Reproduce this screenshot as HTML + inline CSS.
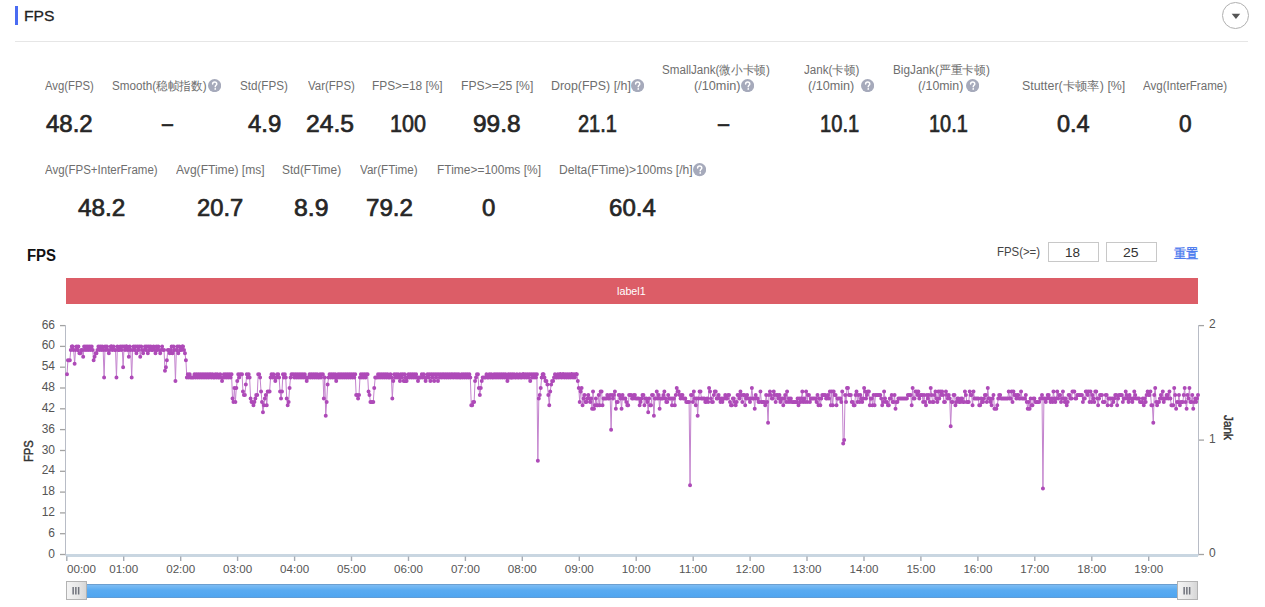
<!DOCTYPE html>
<html><head><meta charset="utf-8"><title>FPS</title>
<style>
html,body{margin:0;padding:0;background:#fff;}
body{width:1265px;height:607px;overflow:hidden;position:relative;font-family:'Liberation Sans',sans-serif;}
.t{position:absolute;white-space:nowrap;transform-origin:0 0;}
.q{position:absolute;display:block;}
.q svg{display:block}
.ch{position:absolute;left:0;top:0;}
</style></head><body>
<svg class="ch" width="1265" height="607" viewBox="0 0 1265 607"><line x1="65.5" y1="325.1" x2="65.5" y2="555.5" stroke="#b8bcc6" stroke-width="1"/><line x1="1198.5" y1="325.1" x2="1198.5" y2="555.5" stroke="#b8bcc6" stroke-width="1"/><line x1="60" y1="554.5" x2="65" y2="554.5" stroke="#a3a3a3" stroke-width="1.3"/><line x1="60" y1="533.7" x2="65" y2="533.7" stroke="#a3a3a3" stroke-width="1.3"/><line x1="60" y1="512.9" x2="65" y2="512.9" stroke="#a3a3a3" stroke-width="1.3"/><line x1="60" y1="492.1" x2="65" y2="492.1" stroke="#a3a3a3" stroke-width="1.3"/><line x1="60" y1="471.3" x2="65" y2="471.3" stroke="#a3a3a3" stroke-width="1.3"/><line x1="60" y1="450.5" x2="65" y2="450.5" stroke="#a3a3a3" stroke-width="1.3"/><line x1="60" y1="429.6" x2="65" y2="429.6" stroke="#a3a3a3" stroke-width="1.3"/><line x1="60" y1="408.8" x2="65" y2="408.8" stroke="#a3a3a3" stroke-width="1.3"/><line x1="60" y1="388.0" x2="65" y2="388.0" stroke="#a3a3a3" stroke-width="1.3"/><line x1="60" y1="367.2" x2="65" y2="367.2" stroke="#a3a3a3" stroke-width="1.3"/><line x1="60" y1="346.4" x2="65" y2="346.4" stroke="#a3a3a3" stroke-width="1.3"/><line x1="60" y1="325.6" x2="65" y2="325.6" stroke="#a3a3a3" stroke-width="1.3"/><line x1="1199" y1="554.5" x2="1204" y2="554.5" stroke="#a3a3a3" stroke-width="1.3"/><line x1="1199" y1="440.1" x2="1204" y2="440.1" stroke="#a3a3a3" stroke-width="1.3"/><line x1="1199" y1="325.6" x2="1204" y2="325.6" stroke="#a3a3a3" stroke-width="1.3"/><line x1="66" y1="555.5" x2="1198" y2="555.5" stroke="#c9d6e1" stroke-width="2.8"/><line x1="66.8" y1="556.5" x2="66.8" y2="561" stroke="#a6abb3" stroke-width="1.4"/><line x1="123.7" y1="556.5" x2="123.7" y2="561" stroke="#a6abb3" stroke-width="1.4"/><line x1="180.7" y1="556.5" x2="180.7" y2="561" stroke="#a6abb3" stroke-width="1.4"/><line x1="237.6" y1="556.5" x2="237.6" y2="561" stroke="#a6abb3" stroke-width="1.4"/><line x1="294.6" y1="556.5" x2="294.6" y2="561" stroke="#a6abb3" stroke-width="1.4"/><line x1="351.5" y1="556.5" x2="351.5" y2="561" stroke="#a6abb3" stroke-width="1.4"/><line x1="408.5" y1="556.5" x2="408.5" y2="561" stroke="#a6abb3" stroke-width="1.4"/><line x1="465.4" y1="556.5" x2="465.4" y2="561" stroke="#a6abb3" stroke-width="1.4"/><line x1="522.3" y1="556.5" x2="522.3" y2="561" stroke="#a6abb3" stroke-width="1.4"/><line x1="579.3" y1="556.5" x2="579.3" y2="561" stroke="#a6abb3" stroke-width="1.4"/><line x1="636.2" y1="556.5" x2="636.2" y2="561" stroke="#a6abb3" stroke-width="1.4"/><line x1="693.2" y1="556.5" x2="693.2" y2="561" stroke="#a6abb3" stroke-width="1.4"/><line x1="750.1" y1="556.5" x2="750.1" y2="561" stroke="#a6abb3" stroke-width="1.4"/><line x1="807.0" y1="556.5" x2="807.0" y2="561" stroke="#a6abb3" stroke-width="1.4"/><line x1="864.0" y1="556.5" x2="864.0" y2="561" stroke="#a6abb3" stroke-width="1.4"/><line x1="920.9" y1="556.5" x2="920.9" y2="561" stroke="#a6abb3" stroke-width="1.4"/><line x1="977.9" y1="556.5" x2="977.9" y2="561" stroke="#a6abb3" stroke-width="1.4"/><line x1="1034.8" y1="556.5" x2="1034.8" y2="561" stroke="#a6abb3" stroke-width="1.4"/><line x1="1091.8" y1="556.5" x2="1091.8" y2="561" stroke="#a6abb3" stroke-width="1.4"/><line x1="1148.7" y1="556.5" x2="1148.7" y2="561" stroke="#a6abb3" stroke-width="1.4"/><polyline points="67.00,374.15 67.95,360.28 68.90,360.28 69.85,360.28 70.80,349.88 71.76,346.41 72.71,346.41 73.66,349.88 74.61,363.75 75.56,349.88 76.51,346.41 77.46,349.88 78.41,346.41 79.37,353.35 80.32,353.35 81.27,349.88 82.22,349.88 83.17,356.81 84.12,346.41 85.07,349.88 86.02,346.41 86.98,349.88 87.93,346.41 88.88,349.88 89.83,346.41 90.78,349.88 91.73,346.41 92.68,349.88 93.63,360.28 94.59,356.81 95.54,353.35 96.49,353.35 97.44,349.88 98.39,346.41 99.34,349.88 100.29,346.41 101.24,349.88 102.20,346.41 103.15,349.88 104.10,377.62 105.05,346.41 106.00,349.88 106.95,346.41 107.90,349.88 108.85,353.35 109.80,349.88 110.76,346.41 111.71,346.41 112.66,349.88 113.61,346.41 114.56,349.88 115.51,349.88 116.46,377.62 117.41,346.41 118.37,349.88 119.32,349.88 120.27,346.41 121.22,349.88 122.17,346.41 123.12,367.22 124.07,346.41 125.02,349.88 125.98,346.41 126.93,346.41 127.88,349.88 128.83,356.81 129.78,346.41 130.73,349.88 131.68,377.62 132.63,349.88 133.59,346.41 134.54,349.88 135.49,346.41 136.44,353.35 137.39,346.41 138.34,349.88 139.29,346.41 140.24,356.81 141.20,346.41 142.15,349.88 143.10,353.35 144.05,349.88 145.00,346.41 145.95,349.88 146.90,346.41 147.85,353.35 148.80,346.41 149.76,349.88 150.71,346.41 151.66,349.88 152.61,349.88 153.56,346.41 154.51,349.88 155.46,353.35 156.41,346.41 157.37,349.88 158.32,346.41 159.27,349.88 160.22,353.35 161.17,349.88 162.12,346.41 163.07,349.88 164.02,349.88 164.98,370.69 165.93,367.22 166.88,360.28 167.83,349.88 168.78,349.88 169.73,353.35 170.68,349.88 171.63,346.41 172.59,353.35 173.54,346.41 174.49,349.88 175.44,381.09 176.39,349.88 177.34,346.41 178.29,353.35 179.24,346.41 180.20,349.88 181.15,349.88 182.10,346.41 183.05,346.41 184.00,349.88 184.95,353.35 185.90,360.28 186.85,377.62 187.80,374.15 188.76,377.62 189.71,374.15 190.66,377.62 191.61,377.62 192.56,377.62 193.51,377.62 194.46,374.15 195.41,377.62 196.37,374.15 197.32,377.62 198.27,374.15 199.22,377.62 200.17,374.15 201.12,377.62 202.07,374.15 203.02,377.62 203.98,374.15 204.93,377.62 205.88,374.15 206.83,377.62 207.78,374.15 208.73,377.62 209.68,374.15 210.63,374.15 211.59,377.62 212.54,374.15 213.49,377.62 214.44,377.62 215.39,374.15 216.34,377.62 217.29,374.15 218.24,377.62 219.20,377.62 220.15,374.15 221.10,377.62 222.05,381.09 223.00,377.62 223.95,374.15 224.90,377.62 225.85,374.15 226.80,377.62 227.76,374.15 228.71,377.62 229.66,374.15 230.61,377.62 231.56,374.15 232.51,398.43 233.46,401.90 234.41,388.03 235.37,401.90 236.32,388.03 237.27,381.09 238.22,374.15 239.17,377.62 240.12,374.15 241.07,374.15 242.02,374.15 242.98,391.50 243.93,394.96 244.88,394.96 245.83,384.56 246.78,374.15 247.73,377.62 248.68,374.15 249.63,377.62 250.59,398.43 251.54,401.90 252.49,401.90 253.44,405.37 254.39,401.90 255.34,398.43 256.29,394.96 257.24,394.96 258.20,374.15 259.15,374.15 260.10,377.62 261.05,391.50 262.00,401.90 262.95,412.30 263.90,405.37 264.85,398.43 265.80,394.96 266.76,405.37 267.71,391.50 268.66,391.50 269.61,391.50 270.56,377.62 271.51,374.15 272.46,377.62 273.41,374.15 274.37,377.62 275.32,381.09 276.27,377.62 277.22,374.15 278.17,374.15 279.12,377.62 280.07,391.50 281.02,398.43 281.98,391.50 282.93,374.15 283.88,377.62 284.83,374.15 285.78,377.62 286.73,398.43 287.68,405.37 288.63,401.90 289.59,388.03 290.54,377.62 291.49,374.15 292.44,374.15 293.39,374.15 294.34,377.62 295.29,374.15 296.24,377.62 297.20,374.15 298.15,377.62 299.10,374.15 300.05,377.62 301.00,374.15 301.95,377.62 302.90,374.15 303.85,377.62 304.80,374.15 305.76,377.62 306.71,381.09 307.66,377.62 308.61,377.62 309.56,374.15 310.51,377.62 311.46,374.15 312.41,377.62 313.37,374.15 314.32,377.62 315.27,374.15 316.22,377.62 317.17,374.15 318.12,377.62 319.07,377.62 320.02,374.15 320.98,377.62 321.93,374.15 322.88,374.15 323.83,398.43 324.78,377.62 325.73,415.77 326.68,401.90 327.63,384.56 328.59,377.62 329.54,374.15 330.49,377.62 331.44,374.15 332.39,377.62 333.34,374.15 334.29,377.62 335.24,374.15 336.20,381.09 337.15,377.62 338.10,374.15 339.05,377.62 340.00,374.15 340.95,377.62 341.90,374.15 342.85,377.62 343.80,374.15 344.76,377.62 345.71,374.15 346.66,377.62 347.61,374.15 348.56,377.62 349.51,374.15 350.46,377.62 351.41,374.15 352.37,377.62 353.32,374.15 354.27,377.62 355.22,374.15 356.17,394.96 357.12,394.96 358.07,398.43 359.02,394.96 359.98,377.62 360.93,374.15 361.88,377.62 362.83,374.15 363.78,377.62 364.73,374.15 365.68,377.62 366.63,374.15 367.59,374.15 368.54,391.50 369.49,394.96 370.44,401.90 371.39,401.90 372.34,401.90 373.29,401.90 374.24,388.03 375.20,377.62 376.15,377.62 377.10,377.62 378.05,374.15 379.00,377.62 379.95,374.15 380.90,377.62 381.85,374.15 382.80,377.62 383.76,374.15 384.71,377.62 385.66,374.15 386.61,377.62 387.56,374.15 388.51,377.62 389.46,377.62 390.41,374.15 391.37,377.62 392.32,398.43 393.27,381.09 394.22,374.15 395.17,377.62 396.12,374.15 397.07,377.62 398.02,374.15 398.98,377.62 399.93,381.09 400.88,374.15 401.83,377.62 402.78,374.15 403.73,381.09 404.68,374.15 405.63,377.62 406.59,381.09 407.54,377.62 408.49,374.15 409.44,377.62 410.39,374.15 411.34,377.62 412.29,374.15 413.24,377.62 414.20,374.15 415.15,377.62 416.10,374.15 417.05,377.62 418.00,381.09 418.95,377.62 419.90,377.62 420.85,377.62 421.80,374.15 422.76,377.62 423.71,374.15 424.66,377.62 425.61,381.09 426.56,377.62 427.51,374.15 428.46,377.62 429.41,374.15 430.37,381.09 431.32,374.15 432.27,377.62 433.22,374.15 434.17,381.09 435.12,374.15 436.07,377.62 437.02,374.15 437.98,381.09 438.93,374.15 439.88,377.62 440.83,374.15 441.78,377.62 442.73,374.15 443.68,374.15 444.63,377.62 445.59,374.15 446.54,377.62 447.49,374.15 448.44,377.62 449.39,374.15 450.34,377.62 451.29,374.15 452.24,374.15 453.20,377.62 454.15,374.15 455.10,374.15 456.05,377.62 457.00,374.15 457.95,377.62 458.90,374.15 459.85,377.62 460.80,377.62 461.76,374.15 462.71,377.62 463.66,374.15 464.61,377.62 465.56,374.15 466.51,377.62 467.46,374.15 468.41,377.62 469.37,374.15 470.32,377.62 471.27,405.37 472.22,405.37 473.17,401.90 474.12,401.90 475.07,381.09 476.02,377.62 476.98,374.15 477.93,374.15 478.88,388.03 479.83,394.96 480.78,388.03 481.73,381.09 482.68,377.62 483.63,377.62 484.59,377.62 485.54,377.62 486.49,374.15 487.44,377.62 488.39,377.62 489.34,374.15 490.29,377.62 491.24,374.15 492.20,377.62 493.15,377.62 494.10,374.15 495.05,377.62 496.00,374.15 496.95,377.62 497.90,374.15 498.85,377.62 499.80,374.15 500.76,377.62 501.71,374.15 502.66,377.62 503.61,374.15 504.56,377.62 505.51,374.15 506.46,377.62 507.41,381.09 508.37,374.15 509.32,377.62 510.27,374.15 511.22,377.62 512.17,374.15 513.12,377.62 514.07,374.15 515.02,377.62 515.98,377.62 516.93,374.15 517.88,377.62 518.83,377.62 519.78,374.15 520.73,377.62 521.68,377.62 522.63,374.15 523.59,374.15 524.54,377.62 525.49,374.15 526.44,377.62 527.39,374.15 528.34,377.62 529.29,374.15 530.24,381.09 531.20,374.15 532.15,377.62 533.10,374.15 534.05,377.62 535.00,374.15 535.95,377.62 536.90,374.15 537.85,460.86 538.80,398.43 539.76,394.96 540.71,388.03 541.66,377.62 542.61,374.15 543.56,374.15 544.51,377.62 545.46,381.09 546.41,381.09 547.37,384.56 548.32,394.96 549.27,405.37 550.22,391.50 551.17,384.56 552.12,381.09 553.07,381.09 554.02,377.62 554.98,374.15 555.93,377.62 556.88,377.62 557.83,374.15 558.78,377.62 559.73,374.15 560.68,374.15 561.63,377.62 562.59,374.15 563.54,374.15 564.49,377.62 565.44,374.15 566.39,377.62 567.34,374.15 568.29,377.62 569.24,374.15 570.20,377.62 571.15,374.15 572.10,374.15 573.05,377.62 574.00,374.15 574.95,377.62 575.90,374.15 576.85,374.15 577.80,381.09 578.76,388.03 579.71,401.90 580.66,391.50 581.61,388.03 582.56,405.37 583.51,398.43 584.46,394.96 585.41,401.90 586.37,401.90 587.32,398.43 588.27,394.96 589.22,398.43 590.17,401.90 591.12,398.43 592.07,408.84 593.02,391.50 593.98,408.84 594.93,405.37 595.88,398.43 596.83,405.37 597.78,405.37 598.73,394.96 599.68,405.37 600.63,391.50 601.59,391.50 602.54,405.37 603.49,398.43 604.44,398.43 605.39,398.43 606.34,398.43 607.29,394.96 608.24,398.43 609.20,398.43 610.15,394.96 611.10,429.65 612.05,394.96 613.00,398.43 613.95,394.96 614.90,391.50 615.85,408.84 616.80,401.90 617.76,401.90 618.71,394.96 619.66,394.96 620.61,398.43 621.56,408.84 622.51,394.96 623.46,398.43 624.41,398.43 625.37,398.43 626.32,401.90 627.27,405.37 628.22,405.37 629.17,394.96 630.12,394.96 631.07,394.96 632.02,398.43 632.98,398.43 633.93,394.96 634.88,394.96 635.83,398.43 636.78,398.43 637.73,398.43 638.68,398.43 639.63,405.37 640.59,401.90 641.54,398.43 642.49,394.96 643.44,394.96 644.39,405.37 645.34,398.43 646.29,398.43 647.24,401.90 648.20,412.30 649.15,398.43 650.10,405.37 651.05,405.37 652.00,394.96 652.95,394.96 653.90,415.77 654.85,398.43 655.80,398.43 656.76,391.50 657.71,398.43 658.66,394.96 659.61,408.84 660.56,398.43 661.51,398.43 662.46,398.43 663.41,394.96 664.37,391.50 665.32,398.43 666.27,401.90 667.22,401.90 668.17,394.96 669.12,398.43 670.07,398.43 671.02,398.43 671.98,405.37 672.93,398.43 673.88,398.43 674.83,405.37 675.78,394.96 676.73,388.03 677.68,391.50 678.63,391.50 679.59,394.96 680.54,398.43 681.49,394.96 682.44,394.96 683.39,398.43 684.34,398.43 685.29,398.43 686.24,401.90 687.20,401.90 688.15,401.90 689.10,401.90 690.05,485.14 691.00,394.96 691.95,394.96 692.90,401.90 693.85,391.50 694.80,398.43 695.76,405.37 696.71,398.43 697.66,415.77 698.61,398.43 699.56,391.50 700.51,391.50 701.46,398.43 702.41,398.43 703.37,398.43 704.32,398.43 705.27,401.90 706.22,401.90 707.17,398.43 708.12,401.90 709.07,388.03 710.02,391.50 710.98,398.43 711.93,401.90 712.88,401.90 713.83,394.96 714.78,391.50 715.73,391.50 716.68,398.43 717.63,398.43 718.59,394.96 719.54,398.43 720.49,401.90 721.44,398.43 722.39,401.90 723.34,398.43 724.29,398.43 725.24,394.96 726.20,398.43 727.15,398.43 728.10,394.96 729.05,394.96 730.00,401.90 730.95,405.37 731.90,405.37 732.85,398.43 733.80,398.43 734.76,401.90 735.71,405.37 736.66,401.90 737.61,394.96 738.56,394.96 739.51,398.43 740.46,391.50 741.41,394.96 742.37,401.90 743.32,394.96 744.27,394.96 745.22,405.37 746.17,398.43 747.12,394.96 748.07,398.43 749.02,398.43 749.98,401.90 750.93,398.43 751.88,388.03 752.83,398.43 753.78,398.43 754.73,408.84 755.68,394.96 756.63,398.43 757.59,398.43 758.54,401.90 759.49,401.90 760.44,391.50 761.39,401.90 762.34,401.90 763.29,401.90 764.24,401.90 765.20,405.37 766.15,394.96 767.10,401.90 768.05,422.71 769.00,394.96 769.95,391.50 770.90,394.96 771.85,398.43 772.80,398.43 773.76,391.50 774.71,394.96 775.66,401.90 776.61,394.96 777.56,394.96 778.51,398.43 779.46,394.96 780.41,401.90 781.37,398.43 782.32,398.43 783.27,405.37 784.22,398.43 785.17,394.96 786.12,401.90 787.07,391.50 788.02,401.90 788.98,398.43 789.93,401.90 790.88,398.43 791.83,401.90 792.78,401.90 793.73,401.90 794.68,401.90 795.63,401.90 796.59,401.90 797.54,398.43 798.49,405.37 799.44,398.43 800.39,401.90 801.34,398.43 802.29,391.50 803.24,401.90 804.20,398.43 805.15,401.90 806.10,391.50 807.05,401.90 808.00,394.96 808.95,394.96 809.90,401.90 810.85,398.43 811.80,398.43 812.76,398.43 813.71,398.43 814.66,398.43 815.61,398.43 816.56,401.90 817.51,394.96 818.46,405.37 819.41,398.43 820.37,405.37 821.32,398.43 822.27,394.96 823.22,394.96 824.17,394.96 825.12,394.96 826.07,398.43 827.02,398.43 827.98,394.96 828.93,398.43 829.88,391.50 830.83,405.37 831.78,391.50 832.73,405.37 833.68,391.50 834.63,394.96 835.59,394.96 836.54,405.37 837.49,398.43 838.44,398.43 839.39,398.43 840.34,398.43 841.29,401.90 842.24,391.50 843.20,443.52 844.15,440.05 845.10,394.96 846.05,401.90 847.00,388.03 847.95,388.03 848.90,394.96 849.85,394.96 850.80,394.96 851.76,401.90 852.71,401.90 853.66,405.37 854.61,405.37 855.56,394.96 856.51,391.50 857.46,401.90 858.41,394.96 859.37,401.90 860.32,394.96 861.27,398.43 862.22,401.90 863.17,398.43 864.12,388.03 865.07,391.50 866.02,398.43 866.98,394.96 867.93,391.50 868.88,391.50 869.83,405.37 870.78,398.43 871.73,398.43 872.68,405.37 873.63,394.96 874.59,405.37 875.54,394.96 876.49,394.96 877.44,394.96 878.39,394.96 879.34,394.96 880.29,394.96 881.24,398.43 882.20,405.37 883.15,401.90 884.10,391.50 885.05,398.43 886.00,401.90 886.95,401.90 887.90,405.37 888.85,405.37 889.80,398.43 890.76,398.43 891.71,394.96 892.66,401.90 893.61,401.90 894.56,394.96 895.51,408.84 896.46,401.90 897.41,401.90 898.37,398.43 899.32,398.43 900.27,398.43 901.22,398.43 902.17,398.43 903.12,398.43 904.07,398.43 905.02,398.43 905.98,398.43 906.93,398.43 907.88,394.96 908.83,394.96 909.78,394.96 910.73,394.96 911.68,405.37 912.63,388.03 913.59,398.43 914.54,398.43 915.49,391.50 916.44,391.50 917.39,394.96 918.34,391.50 919.29,398.43 920.24,394.96 921.20,394.96 922.15,394.96 923.10,401.90 924.05,394.96 925.00,401.90 925.95,405.37 926.90,394.96 927.85,398.43 928.80,394.96 929.76,401.90 930.71,388.03 931.66,394.96 932.61,401.90 933.56,401.90 934.51,394.96 935.46,391.50 936.41,398.43 937.37,401.90 938.32,391.50 939.27,398.43 940.22,391.50 941.17,394.96 942.12,391.50 943.07,394.96 944.02,401.90 944.98,401.90 945.93,391.50 946.88,394.96 947.83,398.43 948.78,394.96 949.73,398.43 950.68,426.18 951.63,401.90 952.59,401.90 953.54,394.96 954.49,394.96 955.44,405.37 956.39,401.90 957.34,398.43 958.29,398.43 959.24,401.90 960.20,401.90 961.15,398.43 962.10,398.43 963.05,401.90 964.00,401.90 964.95,391.50 965.90,394.96 966.85,401.90 967.80,401.90 968.76,401.90 969.71,391.50 970.66,394.96 971.61,394.96 972.56,405.37 973.51,391.50 974.46,398.43 975.41,398.43 976.37,398.43 977.32,398.43 978.27,398.43 979.22,405.37 980.17,405.37 981.12,398.43 982.07,401.90 983.02,401.90 983.98,398.43 984.93,394.96 985.88,394.96 986.83,401.90 987.78,388.03 988.73,398.43 989.68,398.43 990.63,401.90 991.59,405.37 992.54,398.43 993.49,394.96 994.44,408.84 995.39,408.84 996.34,408.84 997.29,405.37 998.24,398.43 999.20,394.96 1000.15,394.96 1001.10,398.43 1002.05,398.43 1003.00,398.43 1003.95,398.43 1004.90,398.43 1005.85,398.43 1006.80,398.43 1007.76,398.43 1008.71,391.50 1009.66,398.43 1010.61,398.43 1011.56,391.50 1012.51,401.90 1013.46,391.50 1014.41,394.96 1015.37,394.96 1016.32,398.43 1017.27,394.96 1018.22,394.96 1019.17,398.43 1020.12,398.43 1021.07,391.50 1022.02,398.43 1022.98,398.43 1023.93,398.43 1024.88,398.43 1025.83,394.96 1026.78,401.90 1027.73,408.84 1028.68,401.90 1029.63,408.84 1030.59,398.43 1031.54,405.37 1032.49,405.37 1033.44,398.43 1034.39,398.43 1035.34,401.90 1036.29,401.90 1037.24,401.90 1038.20,401.90 1039.15,401.90 1040.10,398.43 1041.05,398.43 1042.00,394.96 1042.95,488.60 1043.90,398.43 1044.85,398.43 1045.80,401.90 1046.76,398.43 1047.71,394.96 1048.66,394.96 1049.61,398.43 1050.56,401.90 1051.51,398.43 1052.46,401.90 1053.41,391.50 1054.37,398.43 1055.32,401.90 1056.27,398.43 1057.22,391.50 1058.17,398.43 1059.12,394.96 1060.07,394.96 1061.02,401.90 1061.98,398.43 1062.93,391.50 1063.88,398.43 1064.83,401.90 1065.78,398.43 1066.73,405.37 1067.68,401.90 1068.63,394.96 1069.59,394.96 1070.54,398.43 1071.49,398.43 1072.44,391.50 1073.39,391.50 1074.34,391.50 1075.29,398.43 1076.24,398.43 1077.20,394.96 1078.15,394.96 1079.10,394.96 1080.05,394.96 1081.00,394.96 1081.95,394.96 1082.90,401.90 1083.85,398.43 1084.80,398.43 1085.76,391.50 1086.71,391.50 1087.66,394.96 1088.61,391.50 1089.56,401.90 1090.51,391.50 1091.46,401.90 1092.41,394.96 1093.37,398.43 1094.32,401.90 1095.27,391.50 1096.22,391.50 1097.17,398.43 1098.12,405.37 1099.07,398.43 1100.02,394.96 1100.98,394.96 1101.93,394.96 1102.88,401.90 1103.83,401.90 1104.78,401.90 1105.73,394.96 1106.68,394.96 1107.63,405.37 1108.59,398.43 1109.54,398.43 1110.49,398.43 1111.44,405.37 1112.39,398.43 1113.34,401.90 1114.29,398.43 1115.24,394.96 1116.20,394.96 1117.15,405.37 1118.10,398.43 1119.05,394.96 1120.00,394.96 1120.95,394.96 1121.90,394.96 1122.85,401.90 1123.80,398.43 1124.76,398.43 1125.71,391.50 1126.66,394.96 1127.61,398.43 1128.56,401.90 1129.51,394.96 1130.46,398.43 1131.41,398.43 1132.37,401.90 1133.32,398.43 1134.27,391.50 1135.22,394.96 1136.17,398.43 1137.12,398.43 1138.07,398.43 1139.02,398.43 1139.98,401.90 1140.93,401.90 1141.88,401.90 1142.83,398.43 1143.78,405.37 1144.73,398.43 1145.68,401.90 1146.63,394.96 1147.59,391.50 1148.54,394.96 1149.49,394.96 1150.44,391.50 1151.39,405.37 1152.34,405.37 1153.29,422.71 1154.24,394.96 1155.20,388.03 1156.15,401.90 1157.10,405.37 1158.05,401.90 1159.00,401.90 1159.95,398.43 1160.90,394.96 1161.85,398.43 1162.80,391.50 1163.76,401.90 1164.71,398.43 1165.66,398.43 1166.61,394.96 1167.56,394.96 1168.51,398.43 1169.46,391.50 1170.41,398.43 1171.37,405.37 1172.32,405.37 1173.27,405.37 1174.22,388.03 1175.17,394.96 1176.12,408.84 1177.07,401.90 1178.02,401.90 1178.98,394.96 1179.93,405.37 1180.88,401.90 1181.83,401.90 1182.78,401.90 1183.73,394.96 1184.68,388.03 1185.63,401.90 1186.59,408.84 1187.54,394.96 1188.49,398.43 1189.44,388.03 1190.39,401.90 1191.34,401.90 1192.29,394.96 1193.24,408.84 1194.20,401.90 1195.15,398.43 1196.10,401.90 1197.05,398.43 1198.00,394.96" fill="none" stroke="#c484ce" stroke-width="1"/><path d="M65.00 374.15a2 2 0 1 0 4 0a2 2 0 1 0 -4 0M65.95 360.28a2 2 0 1 0 4 0a2 2 0 1 0 -4 0M66.90 360.28a2 2 0 1 0 4 0a2 2 0 1 0 -4 0M67.85 360.28a2 2 0 1 0 4 0a2 2 0 1 0 -4 0M68.80 349.88a2 2 0 1 0 4 0a2 2 0 1 0 -4 0M69.76 346.41a2 2 0 1 0 4 0a2 2 0 1 0 -4 0M70.71 346.41a2 2 0 1 0 4 0a2 2 0 1 0 -4 0M71.66 349.88a2 2 0 1 0 4 0a2 2 0 1 0 -4 0M72.61 363.75a2 2 0 1 0 4 0a2 2 0 1 0 -4 0M73.56 349.88a2 2 0 1 0 4 0a2 2 0 1 0 -4 0M74.51 346.41a2 2 0 1 0 4 0a2 2 0 1 0 -4 0M75.46 349.88a2 2 0 1 0 4 0a2 2 0 1 0 -4 0M76.41 346.41a2 2 0 1 0 4 0a2 2 0 1 0 -4 0M77.37 353.35a2 2 0 1 0 4 0a2 2 0 1 0 -4 0M78.32 353.35a2 2 0 1 0 4 0a2 2 0 1 0 -4 0M79.27 349.88a2 2 0 1 0 4 0a2 2 0 1 0 -4 0M80.22 349.88a2 2 0 1 0 4 0a2 2 0 1 0 -4 0M81.17 356.81a2 2 0 1 0 4 0a2 2 0 1 0 -4 0M82.12 346.41a2 2 0 1 0 4 0a2 2 0 1 0 -4 0M83.07 349.88a2 2 0 1 0 4 0a2 2 0 1 0 -4 0M84.02 346.41a2 2 0 1 0 4 0a2 2 0 1 0 -4 0M84.98 349.88a2 2 0 1 0 4 0a2 2 0 1 0 -4 0M85.93 346.41a2 2 0 1 0 4 0a2 2 0 1 0 -4 0M86.88 349.88a2 2 0 1 0 4 0a2 2 0 1 0 -4 0M87.83 346.41a2 2 0 1 0 4 0a2 2 0 1 0 -4 0M88.78 349.88a2 2 0 1 0 4 0a2 2 0 1 0 -4 0M89.73 346.41a2 2 0 1 0 4 0a2 2 0 1 0 -4 0M90.68 349.88a2 2 0 1 0 4 0a2 2 0 1 0 -4 0M91.63 360.28a2 2 0 1 0 4 0a2 2 0 1 0 -4 0M92.59 356.81a2 2 0 1 0 4 0a2 2 0 1 0 -4 0M93.54 353.35a2 2 0 1 0 4 0a2 2 0 1 0 -4 0M94.49 353.35a2 2 0 1 0 4 0a2 2 0 1 0 -4 0M95.44 349.88a2 2 0 1 0 4 0a2 2 0 1 0 -4 0M96.39 346.41a2 2 0 1 0 4 0a2 2 0 1 0 -4 0M97.34 349.88a2 2 0 1 0 4 0a2 2 0 1 0 -4 0M98.29 346.41a2 2 0 1 0 4 0a2 2 0 1 0 -4 0M99.24 349.88a2 2 0 1 0 4 0a2 2 0 1 0 -4 0M100.20 346.41a2 2 0 1 0 4 0a2 2 0 1 0 -4 0M101.15 349.88a2 2 0 1 0 4 0a2 2 0 1 0 -4 0M102.10 377.62a2 2 0 1 0 4 0a2 2 0 1 0 -4 0M103.05 346.41a2 2 0 1 0 4 0a2 2 0 1 0 -4 0M104.00 349.88a2 2 0 1 0 4 0a2 2 0 1 0 -4 0M104.95 346.41a2 2 0 1 0 4 0a2 2 0 1 0 -4 0M105.90 349.88a2 2 0 1 0 4 0a2 2 0 1 0 -4 0M106.85 353.35a2 2 0 1 0 4 0a2 2 0 1 0 -4 0M107.80 349.88a2 2 0 1 0 4 0a2 2 0 1 0 -4 0M108.76 346.41a2 2 0 1 0 4 0a2 2 0 1 0 -4 0M109.71 346.41a2 2 0 1 0 4 0a2 2 0 1 0 -4 0M110.66 349.88a2 2 0 1 0 4 0a2 2 0 1 0 -4 0M111.61 346.41a2 2 0 1 0 4 0a2 2 0 1 0 -4 0M112.56 349.88a2 2 0 1 0 4 0a2 2 0 1 0 -4 0M113.51 349.88a2 2 0 1 0 4 0a2 2 0 1 0 -4 0M114.46 377.62a2 2 0 1 0 4 0a2 2 0 1 0 -4 0M115.41 346.41a2 2 0 1 0 4 0a2 2 0 1 0 -4 0M116.37 349.88a2 2 0 1 0 4 0a2 2 0 1 0 -4 0M117.32 349.88a2 2 0 1 0 4 0a2 2 0 1 0 -4 0M118.27 346.41a2 2 0 1 0 4 0a2 2 0 1 0 -4 0M119.22 349.88a2 2 0 1 0 4 0a2 2 0 1 0 -4 0M120.17 346.41a2 2 0 1 0 4 0a2 2 0 1 0 -4 0M121.12 367.22a2 2 0 1 0 4 0a2 2 0 1 0 -4 0M122.07 346.41a2 2 0 1 0 4 0a2 2 0 1 0 -4 0M123.02 349.88a2 2 0 1 0 4 0a2 2 0 1 0 -4 0M123.98 346.41a2 2 0 1 0 4 0a2 2 0 1 0 -4 0M124.93 346.41a2 2 0 1 0 4 0a2 2 0 1 0 -4 0M125.88 349.88a2 2 0 1 0 4 0a2 2 0 1 0 -4 0M126.83 356.81a2 2 0 1 0 4 0a2 2 0 1 0 -4 0M127.78 346.41a2 2 0 1 0 4 0a2 2 0 1 0 -4 0M128.73 349.88a2 2 0 1 0 4 0a2 2 0 1 0 -4 0M129.68 377.62a2 2 0 1 0 4 0a2 2 0 1 0 -4 0M130.63 349.88a2 2 0 1 0 4 0a2 2 0 1 0 -4 0M131.59 346.41a2 2 0 1 0 4 0a2 2 0 1 0 -4 0M132.54 349.88a2 2 0 1 0 4 0a2 2 0 1 0 -4 0M133.49 346.41a2 2 0 1 0 4 0a2 2 0 1 0 -4 0M134.44 353.35a2 2 0 1 0 4 0a2 2 0 1 0 -4 0M135.39 346.41a2 2 0 1 0 4 0a2 2 0 1 0 -4 0M136.34 349.88a2 2 0 1 0 4 0a2 2 0 1 0 -4 0M137.29 346.41a2 2 0 1 0 4 0a2 2 0 1 0 -4 0M138.24 356.81a2 2 0 1 0 4 0a2 2 0 1 0 -4 0M139.20 346.41a2 2 0 1 0 4 0a2 2 0 1 0 -4 0M140.15 349.88a2 2 0 1 0 4 0a2 2 0 1 0 -4 0M141.10 353.35a2 2 0 1 0 4 0a2 2 0 1 0 -4 0M142.05 349.88a2 2 0 1 0 4 0a2 2 0 1 0 -4 0M143.00 346.41a2 2 0 1 0 4 0a2 2 0 1 0 -4 0M143.95 349.88a2 2 0 1 0 4 0a2 2 0 1 0 -4 0M144.90 346.41a2 2 0 1 0 4 0a2 2 0 1 0 -4 0M145.85 353.35a2 2 0 1 0 4 0a2 2 0 1 0 -4 0M146.80 346.41a2 2 0 1 0 4 0a2 2 0 1 0 -4 0M147.76 349.88a2 2 0 1 0 4 0a2 2 0 1 0 -4 0M148.71 346.41a2 2 0 1 0 4 0a2 2 0 1 0 -4 0M149.66 349.88a2 2 0 1 0 4 0a2 2 0 1 0 -4 0M150.61 349.88a2 2 0 1 0 4 0a2 2 0 1 0 -4 0M151.56 346.41a2 2 0 1 0 4 0a2 2 0 1 0 -4 0M152.51 349.88a2 2 0 1 0 4 0a2 2 0 1 0 -4 0M153.46 353.35a2 2 0 1 0 4 0a2 2 0 1 0 -4 0M154.41 346.41a2 2 0 1 0 4 0a2 2 0 1 0 -4 0M155.37 349.88a2 2 0 1 0 4 0a2 2 0 1 0 -4 0M156.32 346.41a2 2 0 1 0 4 0a2 2 0 1 0 -4 0M157.27 349.88a2 2 0 1 0 4 0a2 2 0 1 0 -4 0M158.22 353.35a2 2 0 1 0 4 0a2 2 0 1 0 -4 0M159.17 349.88a2 2 0 1 0 4 0a2 2 0 1 0 -4 0M160.12 346.41a2 2 0 1 0 4 0a2 2 0 1 0 -4 0M161.07 349.88a2 2 0 1 0 4 0a2 2 0 1 0 -4 0M162.02 349.88a2 2 0 1 0 4 0a2 2 0 1 0 -4 0M162.98 370.69a2 2 0 1 0 4 0a2 2 0 1 0 -4 0M163.93 367.22a2 2 0 1 0 4 0a2 2 0 1 0 -4 0M164.88 360.28a2 2 0 1 0 4 0a2 2 0 1 0 -4 0M165.83 349.88a2 2 0 1 0 4 0a2 2 0 1 0 -4 0M166.78 349.88a2 2 0 1 0 4 0a2 2 0 1 0 -4 0M167.73 353.35a2 2 0 1 0 4 0a2 2 0 1 0 -4 0M168.68 349.88a2 2 0 1 0 4 0a2 2 0 1 0 -4 0M169.63 346.41a2 2 0 1 0 4 0a2 2 0 1 0 -4 0M170.59 353.35a2 2 0 1 0 4 0a2 2 0 1 0 -4 0M171.54 346.41a2 2 0 1 0 4 0a2 2 0 1 0 -4 0M172.49 349.88a2 2 0 1 0 4 0a2 2 0 1 0 -4 0M173.44 381.09a2 2 0 1 0 4 0a2 2 0 1 0 -4 0M174.39 349.88a2 2 0 1 0 4 0a2 2 0 1 0 -4 0M175.34 346.41a2 2 0 1 0 4 0a2 2 0 1 0 -4 0M176.29 353.35a2 2 0 1 0 4 0a2 2 0 1 0 -4 0M177.24 346.41a2 2 0 1 0 4 0a2 2 0 1 0 -4 0M178.20 349.88a2 2 0 1 0 4 0a2 2 0 1 0 -4 0M179.15 349.88a2 2 0 1 0 4 0a2 2 0 1 0 -4 0M180.10 346.41a2 2 0 1 0 4 0a2 2 0 1 0 -4 0M181.05 346.41a2 2 0 1 0 4 0a2 2 0 1 0 -4 0M182.00 349.88a2 2 0 1 0 4 0a2 2 0 1 0 -4 0M182.95 353.35a2 2 0 1 0 4 0a2 2 0 1 0 -4 0M183.90 360.28a2 2 0 1 0 4 0a2 2 0 1 0 -4 0M184.85 377.62a2 2 0 1 0 4 0a2 2 0 1 0 -4 0M185.80 374.15a2 2 0 1 0 4 0a2 2 0 1 0 -4 0M186.76 377.62a2 2 0 1 0 4 0a2 2 0 1 0 -4 0M187.71 374.15a2 2 0 1 0 4 0a2 2 0 1 0 -4 0M188.66 377.62a2 2 0 1 0 4 0a2 2 0 1 0 -4 0M189.61 377.62a2 2 0 1 0 4 0a2 2 0 1 0 -4 0M190.56 377.62a2 2 0 1 0 4 0a2 2 0 1 0 -4 0M191.51 377.62a2 2 0 1 0 4 0a2 2 0 1 0 -4 0M192.46 374.15a2 2 0 1 0 4 0a2 2 0 1 0 -4 0M193.41 377.62a2 2 0 1 0 4 0a2 2 0 1 0 -4 0M194.37 374.15a2 2 0 1 0 4 0a2 2 0 1 0 -4 0M195.32 377.62a2 2 0 1 0 4 0a2 2 0 1 0 -4 0M196.27 374.15a2 2 0 1 0 4 0a2 2 0 1 0 -4 0M197.22 377.62a2 2 0 1 0 4 0a2 2 0 1 0 -4 0M198.17 374.15a2 2 0 1 0 4 0a2 2 0 1 0 -4 0M199.12 377.62a2 2 0 1 0 4 0a2 2 0 1 0 -4 0M200.07 374.15a2 2 0 1 0 4 0a2 2 0 1 0 -4 0M201.02 377.62a2 2 0 1 0 4 0a2 2 0 1 0 -4 0M201.98 374.15a2 2 0 1 0 4 0a2 2 0 1 0 -4 0M202.93 377.62a2 2 0 1 0 4 0a2 2 0 1 0 -4 0M203.88 374.15a2 2 0 1 0 4 0a2 2 0 1 0 -4 0M204.83 377.62a2 2 0 1 0 4 0a2 2 0 1 0 -4 0M205.78 374.15a2 2 0 1 0 4 0a2 2 0 1 0 -4 0M206.73 377.62a2 2 0 1 0 4 0a2 2 0 1 0 -4 0M207.68 374.15a2 2 0 1 0 4 0a2 2 0 1 0 -4 0M208.63 374.15a2 2 0 1 0 4 0a2 2 0 1 0 -4 0M209.59 377.62a2 2 0 1 0 4 0a2 2 0 1 0 -4 0M210.54 374.15a2 2 0 1 0 4 0a2 2 0 1 0 -4 0M211.49 377.62a2 2 0 1 0 4 0a2 2 0 1 0 -4 0M212.44 377.62a2 2 0 1 0 4 0a2 2 0 1 0 -4 0M213.39 374.15a2 2 0 1 0 4 0a2 2 0 1 0 -4 0M214.34 377.62a2 2 0 1 0 4 0a2 2 0 1 0 -4 0M215.29 374.15a2 2 0 1 0 4 0a2 2 0 1 0 -4 0M216.24 377.62a2 2 0 1 0 4 0a2 2 0 1 0 -4 0M217.20 377.62a2 2 0 1 0 4 0a2 2 0 1 0 -4 0M218.15 374.15a2 2 0 1 0 4 0a2 2 0 1 0 -4 0M219.10 377.62a2 2 0 1 0 4 0a2 2 0 1 0 -4 0M220.05 381.09a2 2 0 1 0 4 0a2 2 0 1 0 -4 0M221.00 377.62a2 2 0 1 0 4 0a2 2 0 1 0 -4 0M221.95 374.15a2 2 0 1 0 4 0a2 2 0 1 0 -4 0M222.90 377.62a2 2 0 1 0 4 0a2 2 0 1 0 -4 0M223.85 374.15a2 2 0 1 0 4 0a2 2 0 1 0 -4 0M224.80 377.62a2 2 0 1 0 4 0a2 2 0 1 0 -4 0M225.76 374.15a2 2 0 1 0 4 0a2 2 0 1 0 -4 0M226.71 377.62a2 2 0 1 0 4 0a2 2 0 1 0 -4 0M227.66 374.15a2 2 0 1 0 4 0a2 2 0 1 0 -4 0M228.61 377.62a2 2 0 1 0 4 0a2 2 0 1 0 -4 0M229.56 374.15a2 2 0 1 0 4 0a2 2 0 1 0 -4 0M230.51 398.43a2 2 0 1 0 4 0a2 2 0 1 0 -4 0M231.46 401.90a2 2 0 1 0 4 0a2 2 0 1 0 -4 0M232.41 388.03a2 2 0 1 0 4 0a2 2 0 1 0 -4 0M233.37 401.90a2 2 0 1 0 4 0a2 2 0 1 0 -4 0M234.32 388.03a2 2 0 1 0 4 0a2 2 0 1 0 -4 0M235.27 381.09a2 2 0 1 0 4 0a2 2 0 1 0 -4 0M236.22 374.15a2 2 0 1 0 4 0a2 2 0 1 0 -4 0M237.17 377.62a2 2 0 1 0 4 0a2 2 0 1 0 -4 0M238.12 374.15a2 2 0 1 0 4 0a2 2 0 1 0 -4 0M239.07 374.15a2 2 0 1 0 4 0a2 2 0 1 0 -4 0M240.02 374.15a2 2 0 1 0 4 0a2 2 0 1 0 -4 0M240.98 391.50a2 2 0 1 0 4 0a2 2 0 1 0 -4 0M241.93 394.96a2 2 0 1 0 4 0a2 2 0 1 0 -4 0M242.88 394.96a2 2 0 1 0 4 0a2 2 0 1 0 -4 0M243.83 384.56a2 2 0 1 0 4 0a2 2 0 1 0 -4 0M244.78 374.15a2 2 0 1 0 4 0a2 2 0 1 0 -4 0M245.73 377.62a2 2 0 1 0 4 0a2 2 0 1 0 -4 0M246.68 374.15a2 2 0 1 0 4 0a2 2 0 1 0 -4 0M247.63 377.62a2 2 0 1 0 4 0a2 2 0 1 0 -4 0M248.59 398.43a2 2 0 1 0 4 0a2 2 0 1 0 -4 0M249.54 401.90a2 2 0 1 0 4 0a2 2 0 1 0 -4 0M250.49 401.90a2 2 0 1 0 4 0a2 2 0 1 0 -4 0M251.44 405.37a2 2 0 1 0 4 0a2 2 0 1 0 -4 0M252.39 401.90a2 2 0 1 0 4 0a2 2 0 1 0 -4 0M253.34 398.43a2 2 0 1 0 4 0a2 2 0 1 0 -4 0M254.29 394.96a2 2 0 1 0 4 0a2 2 0 1 0 -4 0M255.24 394.96a2 2 0 1 0 4 0a2 2 0 1 0 -4 0M256.20 374.15a2 2 0 1 0 4 0a2 2 0 1 0 -4 0M257.15 374.15a2 2 0 1 0 4 0a2 2 0 1 0 -4 0M258.10 377.62a2 2 0 1 0 4 0a2 2 0 1 0 -4 0M259.05 391.50a2 2 0 1 0 4 0a2 2 0 1 0 -4 0M260.00 401.90a2 2 0 1 0 4 0a2 2 0 1 0 -4 0M260.95 412.30a2 2 0 1 0 4 0a2 2 0 1 0 -4 0M261.90 405.37a2 2 0 1 0 4 0a2 2 0 1 0 -4 0M262.85 398.43a2 2 0 1 0 4 0a2 2 0 1 0 -4 0M263.80 394.96a2 2 0 1 0 4 0a2 2 0 1 0 -4 0M264.76 405.37a2 2 0 1 0 4 0a2 2 0 1 0 -4 0M265.71 391.50a2 2 0 1 0 4 0a2 2 0 1 0 -4 0M266.66 391.50a2 2 0 1 0 4 0a2 2 0 1 0 -4 0M267.61 391.50a2 2 0 1 0 4 0a2 2 0 1 0 -4 0M268.56 377.62a2 2 0 1 0 4 0a2 2 0 1 0 -4 0M269.51 374.15a2 2 0 1 0 4 0a2 2 0 1 0 -4 0M270.46 377.62a2 2 0 1 0 4 0a2 2 0 1 0 -4 0M271.41 374.15a2 2 0 1 0 4 0a2 2 0 1 0 -4 0M272.37 377.62a2 2 0 1 0 4 0a2 2 0 1 0 -4 0M273.32 381.09a2 2 0 1 0 4 0a2 2 0 1 0 -4 0M274.27 377.62a2 2 0 1 0 4 0a2 2 0 1 0 -4 0M275.22 374.15a2 2 0 1 0 4 0a2 2 0 1 0 -4 0M276.17 374.15a2 2 0 1 0 4 0a2 2 0 1 0 -4 0M277.12 377.62a2 2 0 1 0 4 0a2 2 0 1 0 -4 0M278.07 391.50a2 2 0 1 0 4 0a2 2 0 1 0 -4 0M279.02 398.43a2 2 0 1 0 4 0a2 2 0 1 0 -4 0M279.98 391.50a2 2 0 1 0 4 0a2 2 0 1 0 -4 0M280.93 374.15a2 2 0 1 0 4 0a2 2 0 1 0 -4 0M281.88 377.62a2 2 0 1 0 4 0a2 2 0 1 0 -4 0M282.83 374.15a2 2 0 1 0 4 0a2 2 0 1 0 -4 0M283.78 377.62a2 2 0 1 0 4 0a2 2 0 1 0 -4 0M284.73 398.43a2 2 0 1 0 4 0a2 2 0 1 0 -4 0M285.68 405.37a2 2 0 1 0 4 0a2 2 0 1 0 -4 0M286.63 401.90a2 2 0 1 0 4 0a2 2 0 1 0 -4 0M287.59 388.03a2 2 0 1 0 4 0a2 2 0 1 0 -4 0M288.54 377.62a2 2 0 1 0 4 0a2 2 0 1 0 -4 0M289.49 374.15a2 2 0 1 0 4 0a2 2 0 1 0 -4 0M290.44 374.15a2 2 0 1 0 4 0a2 2 0 1 0 -4 0M291.39 374.15a2 2 0 1 0 4 0a2 2 0 1 0 -4 0M292.34 377.62a2 2 0 1 0 4 0a2 2 0 1 0 -4 0M293.29 374.15a2 2 0 1 0 4 0a2 2 0 1 0 -4 0M294.24 377.62a2 2 0 1 0 4 0a2 2 0 1 0 -4 0M295.20 374.15a2 2 0 1 0 4 0a2 2 0 1 0 -4 0M296.15 377.62a2 2 0 1 0 4 0a2 2 0 1 0 -4 0M297.10 374.15a2 2 0 1 0 4 0a2 2 0 1 0 -4 0M298.05 377.62a2 2 0 1 0 4 0a2 2 0 1 0 -4 0M299.00 374.15a2 2 0 1 0 4 0a2 2 0 1 0 -4 0M299.95 377.62a2 2 0 1 0 4 0a2 2 0 1 0 -4 0M300.90 374.15a2 2 0 1 0 4 0a2 2 0 1 0 -4 0M301.85 377.62a2 2 0 1 0 4 0a2 2 0 1 0 -4 0M302.80 374.15a2 2 0 1 0 4 0a2 2 0 1 0 -4 0M303.76 377.62a2 2 0 1 0 4 0a2 2 0 1 0 -4 0M304.71 381.09a2 2 0 1 0 4 0a2 2 0 1 0 -4 0M305.66 377.62a2 2 0 1 0 4 0a2 2 0 1 0 -4 0M306.61 377.62a2 2 0 1 0 4 0a2 2 0 1 0 -4 0M307.56 374.15a2 2 0 1 0 4 0a2 2 0 1 0 -4 0M308.51 377.62a2 2 0 1 0 4 0a2 2 0 1 0 -4 0M309.46 374.15a2 2 0 1 0 4 0a2 2 0 1 0 -4 0M310.41 377.62a2 2 0 1 0 4 0a2 2 0 1 0 -4 0M311.37 374.15a2 2 0 1 0 4 0a2 2 0 1 0 -4 0M312.32 377.62a2 2 0 1 0 4 0a2 2 0 1 0 -4 0M313.27 374.15a2 2 0 1 0 4 0a2 2 0 1 0 -4 0M314.22 377.62a2 2 0 1 0 4 0a2 2 0 1 0 -4 0M315.17 374.15a2 2 0 1 0 4 0a2 2 0 1 0 -4 0M316.12 377.62a2 2 0 1 0 4 0a2 2 0 1 0 -4 0M317.07 377.62a2 2 0 1 0 4 0a2 2 0 1 0 -4 0M318.02 374.15a2 2 0 1 0 4 0a2 2 0 1 0 -4 0M318.98 377.62a2 2 0 1 0 4 0a2 2 0 1 0 -4 0M319.93 374.15a2 2 0 1 0 4 0a2 2 0 1 0 -4 0M320.88 374.15a2 2 0 1 0 4 0a2 2 0 1 0 -4 0M321.83 398.43a2 2 0 1 0 4 0a2 2 0 1 0 -4 0M322.78 377.62a2 2 0 1 0 4 0a2 2 0 1 0 -4 0M323.73 415.77a2 2 0 1 0 4 0a2 2 0 1 0 -4 0M324.68 401.90a2 2 0 1 0 4 0a2 2 0 1 0 -4 0M325.63 384.56a2 2 0 1 0 4 0a2 2 0 1 0 -4 0M326.59 377.62a2 2 0 1 0 4 0a2 2 0 1 0 -4 0M327.54 374.15a2 2 0 1 0 4 0a2 2 0 1 0 -4 0M328.49 377.62a2 2 0 1 0 4 0a2 2 0 1 0 -4 0M329.44 374.15a2 2 0 1 0 4 0a2 2 0 1 0 -4 0M330.39 377.62a2 2 0 1 0 4 0a2 2 0 1 0 -4 0M331.34 374.15a2 2 0 1 0 4 0a2 2 0 1 0 -4 0M332.29 377.62a2 2 0 1 0 4 0a2 2 0 1 0 -4 0M333.24 374.15a2 2 0 1 0 4 0a2 2 0 1 0 -4 0M334.20 381.09a2 2 0 1 0 4 0a2 2 0 1 0 -4 0M335.15 377.62a2 2 0 1 0 4 0a2 2 0 1 0 -4 0M336.10 374.15a2 2 0 1 0 4 0a2 2 0 1 0 -4 0M337.05 377.62a2 2 0 1 0 4 0a2 2 0 1 0 -4 0M338.00 374.15a2 2 0 1 0 4 0a2 2 0 1 0 -4 0M338.95 377.62a2 2 0 1 0 4 0a2 2 0 1 0 -4 0M339.90 374.15a2 2 0 1 0 4 0a2 2 0 1 0 -4 0M340.85 377.62a2 2 0 1 0 4 0a2 2 0 1 0 -4 0M341.80 374.15a2 2 0 1 0 4 0a2 2 0 1 0 -4 0M342.76 377.62a2 2 0 1 0 4 0a2 2 0 1 0 -4 0M343.71 374.15a2 2 0 1 0 4 0a2 2 0 1 0 -4 0M344.66 377.62a2 2 0 1 0 4 0a2 2 0 1 0 -4 0M345.61 374.15a2 2 0 1 0 4 0a2 2 0 1 0 -4 0M346.56 377.62a2 2 0 1 0 4 0a2 2 0 1 0 -4 0M347.51 374.15a2 2 0 1 0 4 0a2 2 0 1 0 -4 0M348.46 377.62a2 2 0 1 0 4 0a2 2 0 1 0 -4 0M349.41 374.15a2 2 0 1 0 4 0a2 2 0 1 0 -4 0M350.37 377.62a2 2 0 1 0 4 0a2 2 0 1 0 -4 0M351.32 374.15a2 2 0 1 0 4 0a2 2 0 1 0 -4 0M352.27 377.62a2 2 0 1 0 4 0a2 2 0 1 0 -4 0M353.22 374.15a2 2 0 1 0 4 0a2 2 0 1 0 -4 0M354.17 394.96a2 2 0 1 0 4 0a2 2 0 1 0 -4 0M355.12 394.96a2 2 0 1 0 4 0a2 2 0 1 0 -4 0M356.07 398.43a2 2 0 1 0 4 0a2 2 0 1 0 -4 0M357.02 394.96a2 2 0 1 0 4 0a2 2 0 1 0 -4 0M357.98 377.62a2 2 0 1 0 4 0a2 2 0 1 0 -4 0M358.93 374.15a2 2 0 1 0 4 0a2 2 0 1 0 -4 0M359.88 377.62a2 2 0 1 0 4 0a2 2 0 1 0 -4 0M360.83 374.15a2 2 0 1 0 4 0a2 2 0 1 0 -4 0M361.78 377.62a2 2 0 1 0 4 0a2 2 0 1 0 -4 0M362.73 374.15a2 2 0 1 0 4 0a2 2 0 1 0 -4 0M363.68 377.62a2 2 0 1 0 4 0a2 2 0 1 0 -4 0M364.63 374.15a2 2 0 1 0 4 0a2 2 0 1 0 -4 0M365.59 374.15a2 2 0 1 0 4 0a2 2 0 1 0 -4 0M366.54 391.50a2 2 0 1 0 4 0a2 2 0 1 0 -4 0M367.49 394.96a2 2 0 1 0 4 0a2 2 0 1 0 -4 0M368.44 401.90a2 2 0 1 0 4 0a2 2 0 1 0 -4 0M369.39 401.90a2 2 0 1 0 4 0a2 2 0 1 0 -4 0M370.34 401.90a2 2 0 1 0 4 0a2 2 0 1 0 -4 0M371.29 401.90a2 2 0 1 0 4 0a2 2 0 1 0 -4 0M372.24 388.03a2 2 0 1 0 4 0a2 2 0 1 0 -4 0M373.20 377.62a2 2 0 1 0 4 0a2 2 0 1 0 -4 0M374.15 377.62a2 2 0 1 0 4 0a2 2 0 1 0 -4 0M375.10 377.62a2 2 0 1 0 4 0a2 2 0 1 0 -4 0M376.05 374.15a2 2 0 1 0 4 0a2 2 0 1 0 -4 0M377.00 377.62a2 2 0 1 0 4 0a2 2 0 1 0 -4 0M377.95 374.15a2 2 0 1 0 4 0a2 2 0 1 0 -4 0M378.90 377.62a2 2 0 1 0 4 0a2 2 0 1 0 -4 0M379.85 374.15a2 2 0 1 0 4 0a2 2 0 1 0 -4 0M380.80 377.62a2 2 0 1 0 4 0a2 2 0 1 0 -4 0M381.76 374.15a2 2 0 1 0 4 0a2 2 0 1 0 -4 0M382.71 377.62a2 2 0 1 0 4 0a2 2 0 1 0 -4 0M383.66 374.15a2 2 0 1 0 4 0a2 2 0 1 0 -4 0M384.61 377.62a2 2 0 1 0 4 0a2 2 0 1 0 -4 0M385.56 374.15a2 2 0 1 0 4 0a2 2 0 1 0 -4 0M386.51 377.62a2 2 0 1 0 4 0a2 2 0 1 0 -4 0M387.46 377.62a2 2 0 1 0 4 0a2 2 0 1 0 -4 0M388.41 374.15a2 2 0 1 0 4 0a2 2 0 1 0 -4 0M389.37 377.62a2 2 0 1 0 4 0a2 2 0 1 0 -4 0M390.32 398.43a2 2 0 1 0 4 0a2 2 0 1 0 -4 0M391.27 381.09a2 2 0 1 0 4 0a2 2 0 1 0 -4 0M392.22 374.15a2 2 0 1 0 4 0a2 2 0 1 0 -4 0M393.17 377.62a2 2 0 1 0 4 0a2 2 0 1 0 -4 0M394.12 374.15a2 2 0 1 0 4 0a2 2 0 1 0 -4 0M395.07 377.62a2 2 0 1 0 4 0a2 2 0 1 0 -4 0M396.02 374.15a2 2 0 1 0 4 0a2 2 0 1 0 -4 0M396.98 377.62a2 2 0 1 0 4 0a2 2 0 1 0 -4 0M397.93 381.09a2 2 0 1 0 4 0a2 2 0 1 0 -4 0M398.88 374.15a2 2 0 1 0 4 0a2 2 0 1 0 -4 0M399.83 377.62a2 2 0 1 0 4 0a2 2 0 1 0 -4 0M400.78 374.15a2 2 0 1 0 4 0a2 2 0 1 0 -4 0M401.73 381.09a2 2 0 1 0 4 0a2 2 0 1 0 -4 0M402.68 374.15a2 2 0 1 0 4 0a2 2 0 1 0 -4 0M403.63 377.62a2 2 0 1 0 4 0a2 2 0 1 0 -4 0M404.59 381.09a2 2 0 1 0 4 0a2 2 0 1 0 -4 0M405.54 377.62a2 2 0 1 0 4 0a2 2 0 1 0 -4 0M406.49 374.15a2 2 0 1 0 4 0a2 2 0 1 0 -4 0M407.44 377.62a2 2 0 1 0 4 0a2 2 0 1 0 -4 0M408.39 374.15a2 2 0 1 0 4 0a2 2 0 1 0 -4 0M409.34 377.62a2 2 0 1 0 4 0a2 2 0 1 0 -4 0M410.29 374.15a2 2 0 1 0 4 0a2 2 0 1 0 -4 0M411.24 377.62a2 2 0 1 0 4 0a2 2 0 1 0 -4 0M412.20 374.15a2 2 0 1 0 4 0a2 2 0 1 0 -4 0M413.15 377.62a2 2 0 1 0 4 0a2 2 0 1 0 -4 0M414.10 374.15a2 2 0 1 0 4 0a2 2 0 1 0 -4 0M415.05 377.62a2 2 0 1 0 4 0a2 2 0 1 0 -4 0M416.00 381.09a2 2 0 1 0 4 0a2 2 0 1 0 -4 0M416.95 377.62a2 2 0 1 0 4 0a2 2 0 1 0 -4 0M417.90 377.62a2 2 0 1 0 4 0a2 2 0 1 0 -4 0M418.85 377.62a2 2 0 1 0 4 0a2 2 0 1 0 -4 0M419.80 374.15a2 2 0 1 0 4 0a2 2 0 1 0 -4 0M420.76 377.62a2 2 0 1 0 4 0a2 2 0 1 0 -4 0M421.71 374.15a2 2 0 1 0 4 0a2 2 0 1 0 -4 0M422.66 377.62a2 2 0 1 0 4 0a2 2 0 1 0 -4 0M423.61 381.09a2 2 0 1 0 4 0a2 2 0 1 0 -4 0M424.56 377.62a2 2 0 1 0 4 0a2 2 0 1 0 -4 0M425.51 374.15a2 2 0 1 0 4 0a2 2 0 1 0 -4 0M426.46 377.62a2 2 0 1 0 4 0a2 2 0 1 0 -4 0M427.41 374.15a2 2 0 1 0 4 0a2 2 0 1 0 -4 0M428.37 381.09a2 2 0 1 0 4 0a2 2 0 1 0 -4 0M429.32 374.15a2 2 0 1 0 4 0a2 2 0 1 0 -4 0M430.27 377.62a2 2 0 1 0 4 0a2 2 0 1 0 -4 0M431.22 374.15a2 2 0 1 0 4 0a2 2 0 1 0 -4 0M432.17 381.09a2 2 0 1 0 4 0a2 2 0 1 0 -4 0M433.12 374.15a2 2 0 1 0 4 0a2 2 0 1 0 -4 0M434.07 377.62a2 2 0 1 0 4 0a2 2 0 1 0 -4 0M435.02 374.15a2 2 0 1 0 4 0a2 2 0 1 0 -4 0M435.98 381.09a2 2 0 1 0 4 0a2 2 0 1 0 -4 0M436.93 374.15a2 2 0 1 0 4 0a2 2 0 1 0 -4 0M437.88 377.62a2 2 0 1 0 4 0a2 2 0 1 0 -4 0M438.83 374.15a2 2 0 1 0 4 0a2 2 0 1 0 -4 0M439.78 377.62a2 2 0 1 0 4 0a2 2 0 1 0 -4 0M440.73 374.15a2 2 0 1 0 4 0a2 2 0 1 0 -4 0M441.68 374.15a2 2 0 1 0 4 0a2 2 0 1 0 -4 0M442.63 377.62a2 2 0 1 0 4 0a2 2 0 1 0 -4 0M443.59 374.15a2 2 0 1 0 4 0a2 2 0 1 0 -4 0M444.54 377.62a2 2 0 1 0 4 0a2 2 0 1 0 -4 0M445.49 374.15a2 2 0 1 0 4 0a2 2 0 1 0 -4 0M446.44 377.62a2 2 0 1 0 4 0a2 2 0 1 0 -4 0M447.39 374.15a2 2 0 1 0 4 0a2 2 0 1 0 -4 0M448.34 377.62a2 2 0 1 0 4 0a2 2 0 1 0 -4 0M449.29 374.15a2 2 0 1 0 4 0a2 2 0 1 0 -4 0M450.24 374.15a2 2 0 1 0 4 0a2 2 0 1 0 -4 0M451.20 377.62a2 2 0 1 0 4 0a2 2 0 1 0 -4 0M452.15 374.15a2 2 0 1 0 4 0a2 2 0 1 0 -4 0M453.10 374.15a2 2 0 1 0 4 0a2 2 0 1 0 -4 0M454.05 377.62a2 2 0 1 0 4 0a2 2 0 1 0 -4 0M455.00 374.15a2 2 0 1 0 4 0a2 2 0 1 0 -4 0M455.95 377.62a2 2 0 1 0 4 0a2 2 0 1 0 -4 0M456.90 374.15a2 2 0 1 0 4 0a2 2 0 1 0 -4 0M457.85 377.62a2 2 0 1 0 4 0a2 2 0 1 0 -4 0M458.80 377.62a2 2 0 1 0 4 0a2 2 0 1 0 -4 0M459.76 374.15a2 2 0 1 0 4 0a2 2 0 1 0 -4 0M460.71 377.62a2 2 0 1 0 4 0a2 2 0 1 0 -4 0M461.66 374.15a2 2 0 1 0 4 0a2 2 0 1 0 -4 0M462.61 377.62a2 2 0 1 0 4 0a2 2 0 1 0 -4 0M463.56 374.15a2 2 0 1 0 4 0a2 2 0 1 0 -4 0M464.51 377.62a2 2 0 1 0 4 0a2 2 0 1 0 -4 0M465.46 374.15a2 2 0 1 0 4 0a2 2 0 1 0 -4 0M466.41 377.62a2 2 0 1 0 4 0a2 2 0 1 0 -4 0M467.37 374.15a2 2 0 1 0 4 0a2 2 0 1 0 -4 0M468.32 377.62a2 2 0 1 0 4 0a2 2 0 1 0 -4 0M469.27 405.37a2 2 0 1 0 4 0a2 2 0 1 0 -4 0M470.22 405.37a2 2 0 1 0 4 0a2 2 0 1 0 -4 0M471.17 401.90a2 2 0 1 0 4 0a2 2 0 1 0 -4 0M472.12 401.90a2 2 0 1 0 4 0a2 2 0 1 0 -4 0M473.07 381.09a2 2 0 1 0 4 0a2 2 0 1 0 -4 0M474.02 377.62a2 2 0 1 0 4 0a2 2 0 1 0 -4 0M474.98 374.15a2 2 0 1 0 4 0a2 2 0 1 0 -4 0M475.93 374.15a2 2 0 1 0 4 0a2 2 0 1 0 -4 0M476.88 388.03a2 2 0 1 0 4 0a2 2 0 1 0 -4 0M477.83 394.96a2 2 0 1 0 4 0a2 2 0 1 0 -4 0M478.78 388.03a2 2 0 1 0 4 0a2 2 0 1 0 -4 0M479.73 381.09a2 2 0 1 0 4 0a2 2 0 1 0 -4 0M480.68 377.62a2 2 0 1 0 4 0a2 2 0 1 0 -4 0M481.63 377.62a2 2 0 1 0 4 0a2 2 0 1 0 -4 0M482.59 377.62a2 2 0 1 0 4 0a2 2 0 1 0 -4 0M483.54 377.62a2 2 0 1 0 4 0a2 2 0 1 0 -4 0M484.49 374.15a2 2 0 1 0 4 0a2 2 0 1 0 -4 0M485.44 377.62a2 2 0 1 0 4 0a2 2 0 1 0 -4 0M486.39 377.62a2 2 0 1 0 4 0a2 2 0 1 0 -4 0M487.34 374.15a2 2 0 1 0 4 0a2 2 0 1 0 -4 0M488.29 377.62a2 2 0 1 0 4 0a2 2 0 1 0 -4 0M489.24 374.15a2 2 0 1 0 4 0a2 2 0 1 0 -4 0M490.20 377.62a2 2 0 1 0 4 0a2 2 0 1 0 -4 0M491.15 377.62a2 2 0 1 0 4 0a2 2 0 1 0 -4 0M492.10 374.15a2 2 0 1 0 4 0a2 2 0 1 0 -4 0M493.05 377.62a2 2 0 1 0 4 0a2 2 0 1 0 -4 0M494.00 374.15a2 2 0 1 0 4 0a2 2 0 1 0 -4 0M494.95 377.62a2 2 0 1 0 4 0a2 2 0 1 0 -4 0M495.90 374.15a2 2 0 1 0 4 0a2 2 0 1 0 -4 0M496.85 377.62a2 2 0 1 0 4 0a2 2 0 1 0 -4 0M497.80 374.15a2 2 0 1 0 4 0a2 2 0 1 0 -4 0M498.76 377.62a2 2 0 1 0 4 0a2 2 0 1 0 -4 0M499.71 374.15a2 2 0 1 0 4 0a2 2 0 1 0 -4 0M500.66 377.62a2 2 0 1 0 4 0a2 2 0 1 0 -4 0M501.61 374.15a2 2 0 1 0 4 0a2 2 0 1 0 -4 0M502.56 377.62a2 2 0 1 0 4 0a2 2 0 1 0 -4 0M503.51 374.15a2 2 0 1 0 4 0a2 2 0 1 0 -4 0M504.46 377.62a2 2 0 1 0 4 0a2 2 0 1 0 -4 0M505.41 381.09a2 2 0 1 0 4 0a2 2 0 1 0 -4 0M506.37 374.15a2 2 0 1 0 4 0a2 2 0 1 0 -4 0M507.32 377.62a2 2 0 1 0 4 0a2 2 0 1 0 -4 0M508.27 374.15a2 2 0 1 0 4 0a2 2 0 1 0 -4 0M509.22 377.62a2 2 0 1 0 4 0a2 2 0 1 0 -4 0M510.17 374.15a2 2 0 1 0 4 0a2 2 0 1 0 -4 0M511.12 377.62a2 2 0 1 0 4 0a2 2 0 1 0 -4 0M512.07 374.15a2 2 0 1 0 4 0a2 2 0 1 0 -4 0M513.02 377.62a2 2 0 1 0 4 0a2 2 0 1 0 -4 0M513.98 377.62a2 2 0 1 0 4 0a2 2 0 1 0 -4 0M514.93 374.15a2 2 0 1 0 4 0a2 2 0 1 0 -4 0M515.88 377.62a2 2 0 1 0 4 0a2 2 0 1 0 -4 0M516.83 377.62a2 2 0 1 0 4 0a2 2 0 1 0 -4 0M517.78 374.15a2 2 0 1 0 4 0a2 2 0 1 0 -4 0M518.73 377.62a2 2 0 1 0 4 0a2 2 0 1 0 -4 0M519.68 377.62a2 2 0 1 0 4 0a2 2 0 1 0 -4 0M520.63 374.15a2 2 0 1 0 4 0a2 2 0 1 0 -4 0M521.59 374.15a2 2 0 1 0 4 0a2 2 0 1 0 -4 0M522.54 377.62a2 2 0 1 0 4 0a2 2 0 1 0 -4 0M523.49 374.15a2 2 0 1 0 4 0a2 2 0 1 0 -4 0M524.44 377.62a2 2 0 1 0 4 0a2 2 0 1 0 -4 0M525.39 374.15a2 2 0 1 0 4 0a2 2 0 1 0 -4 0M526.34 377.62a2 2 0 1 0 4 0a2 2 0 1 0 -4 0M527.29 374.15a2 2 0 1 0 4 0a2 2 0 1 0 -4 0M528.24 381.09a2 2 0 1 0 4 0a2 2 0 1 0 -4 0M529.20 374.15a2 2 0 1 0 4 0a2 2 0 1 0 -4 0M530.15 377.62a2 2 0 1 0 4 0a2 2 0 1 0 -4 0M531.10 374.15a2 2 0 1 0 4 0a2 2 0 1 0 -4 0M532.05 377.62a2 2 0 1 0 4 0a2 2 0 1 0 -4 0M533.00 374.15a2 2 0 1 0 4 0a2 2 0 1 0 -4 0M533.95 377.62a2 2 0 1 0 4 0a2 2 0 1 0 -4 0M534.90 374.15a2 2 0 1 0 4 0a2 2 0 1 0 -4 0M535.85 460.86a2 2 0 1 0 4 0a2 2 0 1 0 -4 0M536.80 398.43a2 2 0 1 0 4 0a2 2 0 1 0 -4 0M537.76 394.96a2 2 0 1 0 4 0a2 2 0 1 0 -4 0M538.71 388.03a2 2 0 1 0 4 0a2 2 0 1 0 -4 0M539.66 377.62a2 2 0 1 0 4 0a2 2 0 1 0 -4 0M540.61 374.15a2 2 0 1 0 4 0a2 2 0 1 0 -4 0M541.56 374.15a2 2 0 1 0 4 0a2 2 0 1 0 -4 0M542.51 377.62a2 2 0 1 0 4 0a2 2 0 1 0 -4 0M543.46 381.09a2 2 0 1 0 4 0a2 2 0 1 0 -4 0M544.41 381.09a2 2 0 1 0 4 0a2 2 0 1 0 -4 0M545.37 384.56a2 2 0 1 0 4 0a2 2 0 1 0 -4 0M546.32 394.96a2 2 0 1 0 4 0a2 2 0 1 0 -4 0M547.27 405.37a2 2 0 1 0 4 0a2 2 0 1 0 -4 0M548.22 391.50a2 2 0 1 0 4 0a2 2 0 1 0 -4 0M549.17 384.56a2 2 0 1 0 4 0a2 2 0 1 0 -4 0M550.12 381.09a2 2 0 1 0 4 0a2 2 0 1 0 -4 0M551.07 381.09a2 2 0 1 0 4 0a2 2 0 1 0 -4 0M552.02 377.62a2 2 0 1 0 4 0a2 2 0 1 0 -4 0M552.98 374.15a2 2 0 1 0 4 0a2 2 0 1 0 -4 0M553.93 377.62a2 2 0 1 0 4 0a2 2 0 1 0 -4 0M554.88 377.62a2 2 0 1 0 4 0a2 2 0 1 0 -4 0M555.83 374.15a2 2 0 1 0 4 0a2 2 0 1 0 -4 0M556.78 377.62a2 2 0 1 0 4 0a2 2 0 1 0 -4 0M557.73 374.15a2 2 0 1 0 4 0a2 2 0 1 0 -4 0M558.68 374.15a2 2 0 1 0 4 0a2 2 0 1 0 -4 0M559.63 377.62a2 2 0 1 0 4 0a2 2 0 1 0 -4 0M560.59 374.15a2 2 0 1 0 4 0a2 2 0 1 0 -4 0M561.54 374.15a2 2 0 1 0 4 0a2 2 0 1 0 -4 0M562.49 377.62a2 2 0 1 0 4 0a2 2 0 1 0 -4 0M563.44 374.15a2 2 0 1 0 4 0a2 2 0 1 0 -4 0M564.39 377.62a2 2 0 1 0 4 0a2 2 0 1 0 -4 0M565.34 374.15a2 2 0 1 0 4 0a2 2 0 1 0 -4 0M566.29 377.62a2 2 0 1 0 4 0a2 2 0 1 0 -4 0M567.24 374.15a2 2 0 1 0 4 0a2 2 0 1 0 -4 0M568.20 377.62a2 2 0 1 0 4 0a2 2 0 1 0 -4 0M569.15 374.15a2 2 0 1 0 4 0a2 2 0 1 0 -4 0M570.10 374.15a2 2 0 1 0 4 0a2 2 0 1 0 -4 0M571.05 377.62a2 2 0 1 0 4 0a2 2 0 1 0 -4 0M572.00 374.15a2 2 0 1 0 4 0a2 2 0 1 0 -4 0M572.95 377.62a2 2 0 1 0 4 0a2 2 0 1 0 -4 0M573.90 374.15a2 2 0 1 0 4 0a2 2 0 1 0 -4 0M574.85 374.15a2 2 0 1 0 4 0a2 2 0 1 0 -4 0M575.80 381.09a2 2 0 1 0 4 0a2 2 0 1 0 -4 0M576.76 388.03a2 2 0 1 0 4 0a2 2 0 1 0 -4 0M577.71 401.90a2 2 0 1 0 4 0a2 2 0 1 0 -4 0M578.66 391.50a2 2 0 1 0 4 0a2 2 0 1 0 -4 0M579.61 388.03a2 2 0 1 0 4 0a2 2 0 1 0 -4 0M580.56 405.37a2 2 0 1 0 4 0a2 2 0 1 0 -4 0M581.51 398.43a2 2 0 1 0 4 0a2 2 0 1 0 -4 0M582.46 394.96a2 2 0 1 0 4 0a2 2 0 1 0 -4 0M583.41 401.90a2 2 0 1 0 4 0a2 2 0 1 0 -4 0M584.37 401.90a2 2 0 1 0 4 0a2 2 0 1 0 -4 0M585.32 398.43a2 2 0 1 0 4 0a2 2 0 1 0 -4 0M586.27 394.96a2 2 0 1 0 4 0a2 2 0 1 0 -4 0M587.22 398.43a2 2 0 1 0 4 0a2 2 0 1 0 -4 0M588.17 401.90a2 2 0 1 0 4 0a2 2 0 1 0 -4 0M589.12 398.43a2 2 0 1 0 4 0a2 2 0 1 0 -4 0M590.07 408.84a2 2 0 1 0 4 0a2 2 0 1 0 -4 0M591.02 391.50a2 2 0 1 0 4 0a2 2 0 1 0 -4 0M591.98 408.84a2 2 0 1 0 4 0a2 2 0 1 0 -4 0M592.93 405.37a2 2 0 1 0 4 0a2 2 0 1 0 -4 0M593.88 398.43a2 2 0 1 0 4 0a2 2 0 1 0 -4 0M594.83 405.37a2 2 0 1 0 4 0a2 2 0 1 0 -4 0M595.78 405.37a2 2 0 1 0 4 0a2 2 0 1 0 -4 0M596.73 394.96a2 2 0 1 0 4 0a2 2 0 1 0 -4 0M597.68 405.37a2 2 0 1 0 4 0a2 2 0 1 0 -4 0M598.63 391.50a2 2 0 1 0 4 0a2 2 0 1 0 -4 0M599.59 391.50a2 2 0 1 0 4 0a2 2 0 1 0 -4 0M600.54 405.37a2 2 0 1 0 4 0a2 2 0 1 0 -4 0M601.49 398.43a2 2 0 1 0 4 0a2 2 0 1 0 -4 0M602.44 398.43a2 2 0 1 0 4 0a2 2 0 1 0 -4 0M603.39 398.43a2 2 0 1 0 4 0a2 2 0 1 0 -4 0M604.34 398.43a2 2 0 1 0 4 0a2 2 0 1 0 -4 0M605.29 394.96a2 2 0 1 0 4 0a2 2 0 1 0 -4 0M606.24 398.43a2 2 0 1 0 4 0a2 2 0 1 0 -4 0M607.20 398.43a2 2 0 1 0 4 0a2 2 0 1 0 -4 0M608.15 394.96a2 2 0 1 0 4 0a2 2 0 1 0 -4 0M609.10 429.65a2 2 0 1 0 4 0a2 2 0 1 0 -4 0M610.05 394.96a2 2 0 1 0 4 0a2 2 0 1 0 -4 0M611.00 398.43a2 2 0 1 0 4 0a2 2 0 1 0 -4 0M611.95 394.96a2 2 0 1 0 4 0a2 2 0 1 0 -4 0M612.90 391.50a2 2 0 1 0 4 0a2 2 0 1 0 -4 0M613.85 408.84a2 2 0 1 0 4 0a2 2 0 1 0 -4 0M614.80 401.90a2 2 0 1 0 4 0a2 2 0 1 0 -4 0M615.76 401.90a2 2 0 1 0 4 0a2 2 0 1 0 -4 0M616.71 394.96a2 2 0 1 0 4 0a2 2 0 1 0 -4 0M617.66 394.96a2 2 0 1 0 4 0a2 2 0 1 0 -4 0M618.61 398.43a2 2 0 1 0 4 0a2 2 0 1 0 -4 0M619.56 408.84a2 2 0 1 0 4 0a2 2 0 1 0 -4 0M620.51 394.96a2 2 0 1 0 4 0a2 2 0 1 0 -4 0M621.46 398.43a2 2 0 1 0 4 0a2 2 0 1 0 -4 0M622.41 398.43a2 2 0 1 0 4 0a2 2 0 1 0 -4 0M623.37 398.43a2 2 0 1 0 4 0a2 2 0 1 0 -4 0M624.32 401.90a2 2 0 1 0 4 0a2 2 0 1 0 -4 0M625.27 405.37a2 2 0 1 0 4 0a2 2 0 1 0 -4 0M626.22 405.37a2 2 0 1 0 4 0a2 2 0 1 0 -4 0M627.17 394.96a2 2 0 1 0 4 0a2 2 0 1 0 -4 0M628.12 394.96a2 2 0 1 0 4 0a2 2 0 1 0 -4 0M629.07 394.96a2 2 0 1 0 4 0a2 2 0 1 0 -4 0M630.02 398.43a2 2 0 1 0 4 0a2 2 0 1 0 -4 0M630.98 398.43a2 2 0 1 0 4 0a2 2 0 1 0 -4 0M631.93 394.96a2 2 0 1 0 4 0a2 2 0 1 0 -4 0M632.88 394.96a2 2 0 1 0 4 0a2 2 0 1 0 -4 0M633.83 398.43a2 2 0 1 0 4 0a2 2 0 1 0 -4 0M634.78 398.43a2 2 0 1 0 4 0a2 2 0 1 0 -4 0M635.73 398.43a2 2 0 1 0 4 0a2 2 0 1 0 -4 0M636.68 398.43a2 2 0 1 0 4 0a2 2 0 1 0 -4 0M637.63 405.37a2 2 0 1 0 4 0a2 2 0 1 0 -4 0M638.59 401.90a2 2 0 1 0 4 0a2 2 0 1 0 -4 0M639.54 398.43a2 2 0 1 0 4 0a2 2 0 1 0 -4 0M640.49 394.96a2 2 0 1 0 4 0a2 2 0 1 0 -4 0M641.44 394.96a2 2 0 1 0 4 0a2 2 0 1 0 -4 0M642.39 405.37a2 2 0 1 0 4 0a2 2 0 1 0 -4 0M643.34 398.43a2 2 0 1 0 4 0a2 2 0 1 0 -4 0M644.29 398.43a2 2 0 1 0 4 0a2 2 0 1 0 -4 0M645.24 401.90a2 2 0 1 0 4 0a2 2 0 1 0 -4 0M646.20 412.30a2 2 0 1 0 4 0a2 2 0 1 0 -4 0M647.15 398.43a2 2 0 1 0 4 0a2 2 0 1 0 -4 0M648.10 405.37a2 2 0 1 0 4 0a2 2 0 1 0 -4 0M649.05 405.37a2 2 0 1 0 4 0a2 2 0 1 0 -4 0M650.00 394.96a2 2 0 1 0 4 0a2 2 0 1 0 -4 0M650.95 394.96a2 2 0 1 0 4 0a2 2 0 1 0 -4 0M651.90 415.77a2 2 0 1 0 4 0a2 2 0 1 0 -4 0M652.85 398.43a2 2 0 1 0 4 0a2 2 0 1 0 -4 0M653.80 398.43a2 2 0 1 0 4 0a2 2 0 1 0 -4 0M654.76 391.50a2 2 0 1 0 4 0a2 2 0 1 0 -4 0M655.71 398.43a2 2 0 1 0 4 0a2 2 0 1 0 -4 0M656.66 394.96a2 2 0 1 0 4 0a2 2 0 1 0 -4 0M657.61 408.84a2 2 0 1 0 4 0a2 2 0 1 0 -4 0M658.56 398.43a2 2 0 1 0 4 0a2 2 0 1 0 -4 0M659.51 398.43a2 2 0 1 0 4 0a2 2 0 1 0 -4 0M660.46 398.43a2 2 0 1 0 4 0a2 2 0 1 0 -4 0M661.41 394.96a2 2 0 1 0 4 0a2 2 0 1 0 -4 0M662.37 391.50a2 2 0 1 0 4 0a2 2 0 1 0 -4 0M663.32 398.43a2 2 0 1 0 4 0a2 2 0 1 0 -4 0M664.27 401.90a2 2 0 1 0 4 0a2 2 0 1 0 -4 0M665.22 401.90a2 2 0 1 0 4 0a2 2 0 1 0 -4 0M666.17 394.96a2 2 0 1 0 4 0a2 2 0 1 0 -4 0M667.12 398.43a2 2 0 1 0 4 0a2 2 0 1 0 -4 0M668.07 398.43a2 2 0 1 0 4 0a2 2 0 1 0 -4 0M669.02 398.43a2 2 0 1 0 4 0a2 2 0 1 0 -4 0M669.98 405.37a2 2 0 1 0 4 0a2 2 0 1 0 -4 0M670.93 398.43a2 2 0 1 0 4 0a2 2 0 1 0 -4 0M671.88 398.43a2 2 0 1 0 4 0a2 2 0 1 0 -4 0M672.83 405.37a2 2 0 1 0 4 0a2 2 0 1 0 -4 0M673.78 394.96a2 2 0 1 0 4 0a2 2 0 1 0 -4 0M674.73 388.03a2 2 0 1 0 4 0a2 2 0 1 0 -4 0M675.68 391.50a2 2 0 1 0 4 0a2 2 0 1 0 -4 0M676.63 391.50a2 2 0 1 0 4 0a2 2 0 1 0 -4 0M677.59 394.96a2 2 0 1 0 4 0a2 2 0 1 0 -4 0M678.54 398.43a2 2 0 1 0 4 0a2 2 0 1 0 -4 0M679.49 394.96a2 2 0 1 0 4 0a2 2 0 1 0 -4 0M680.44 394.96a2 2 0 1 0 4 0a2 2 0 1 0 -4 0M681.39 398.43a2 2 0 1 0 4 0a2 2 0 1 0 -4 0M682.34 398.43a2 2 0 1 0 4 0a2 2 0 1 0 -4 0M683.29 398.43a2 2 0 1 0 4 0a2 2 0 1 0 -4 0M684.24 401.90a2 2 0 1 0 4 0a2 2 0 1 0 -4 0M685.20 401.90a2 2 0 1 0 4 0a2 2 0 1 0 -4 0M686.15 401.90a2 2 0 1 0 4 0a2 2 0 1 0 -4 0M687.10 401.90a2 2 0 1 0 4 0a2 2 0 1 0 -4 0M688.05 485.14a2 2 0 1 0 4 0a2 2 0 1 0 -4 0M689.00 394.96a2 2 0 1 0 4 0a2 2 0 1 0 -4 0M689.95 394.96a2 2 0 1 0 4 0a2 2 0 1 0 -4 0M690.90 401.90a2 2 0 1 0 4 0a2 2 0 1 0 -4 0M691.85 391.50a2 2 0 1 0 4 0a2 2 0 1 0 -4 0M692.80 398.43a2 2 0 1 0 4 0a2 2 0 1 0 -4 0M693.76 405.37a2 2 0 1 0 4 0a2 2 0 1 0 -4 0M694.71 398.43a2 2 0 1 0 4 0a2 2 0 1 0 -4 0M695.66 415.77a2 2 0 1 0 4 0a2 2 0 1 0 -4 0M696.61 398.43a2 2 0 1 0 4 0a2 2 0 1 0 -4 0M697.56 391.50a2 2 0 1 0 4 0a2 2 0 1 0 -4 0M698.51 391.50a2 2 0 1 0 4 0a2 2 0 1 0 -4 0M699.46 398.43a2 2 0 1 0 4 0a2 2 0 1 0 -4 0M700.41 398.43a2 2 0 1 0 4 0a2 2 0 1 0 -4 0M701.37 398.43a2 2 0 1 0 4 0a2 2 0 1 0 -4 0M702.32 398.43a2 2 0 1 0 4 0a2 2 0 1 0 -4 0M703.27 401.90a2 2 0 1 0 4 0a2 2 0 1 0 -4 0M704.22 401.90a2 2 0 1 0 4 0a2 2 0 1 0 -4 0M705.17 398.43a2 2 0 1 0 4 0a2 2 0 1 0 -4 0M706.12 401.90a2 2 0 1 0 4 0a2 2 0 1 0 -4 0M707.07 388.03a2 2 0 1 0 4 0a2 2 0 1 0 -4 0M708.02 391.50a2 2 0 1 0 4 0a2 2 0 1 0 -4 0M708.98 398.43a2 2 0 1 0 4 0a2 2 0 1 0 -4 0M709.93 401.90a2 2 0 1 0 4 0a2 2 0 1 0 -4 0M710.88 401.90a2 2 0 1 0 4 0a2 2 0 1 0 -4 0M711.83 394.96a2 2 0 1 0 4 0a2 2 0 1 0 -4 0M712.78 391.50a2 2 0 1 0 4 0a2 2 0 1 0 -4 0M713.73 391.50a2 2 0 1 0 4 0a2 2 0 1 0 -4 0M714.68 398.43a2 2 0 1 0 4 0a2 2 0 1 0 -4 0M715.63 398.43a2 2 0 1 0 4 0a2 2 0 1 0 -4 0M716.59 394.96a2 2 0 1 0 4 0a2 2 0 1 0 -4 0M717.54 398.43a2 2 0 1 0 4 0a2 2 0 1 0 -4 0M718.49 401.90a2 2 0 1 0 4 0a2 2 0 1 0 -4 0M719.44 398.43a2 2 0 1 0 4 0a2 2 0 1 0 -4 0M720.39 401.90a2 2 0 1 0 4 0a2 2 0 1 0 -4 0M721.34 398.43a2 2 0 1 0 4 0a2 2 0 1 0 -4 0M722.29 398.43a2 2 0 1 0 4 0a2 2 0 1 0 -4 0M723.24 394.96a2 2 0 1 0 4 0a2 2 0 1 0 -4 0M724.20 398.43a2 2 0 1 0 4 0a2 2 0 1 0 -4 0M725.15 398.43a2 2 0 1 0 4 0a2 2 0 1 0 -4 0M726.10 394.96a2 2 0 1 0 4 0a2 2 0 1 0 -4 0M727.05 394.96a2 2 0 1 0 4 0a2 2 0 1 0 -4 0M728.00 401.90a2 2 0 1 0 4 0a2 2 0 1 0 -4 0M728.95 405.37a2 2 0 1 0 4 0a2 2 0 1 0 -4 0M729.90 405.37a2 2 0 1 0 4 0a2 2 0 1 0 -4 0M730.85 398.43a2 2 0 1 0 4 0a2 2 0 1 0 -4 0M731.80 398.43a2 2 0 1 0 4 0a2 2 0 1 0 -4 0M732.76 401.90a2 2 0 1 0 4 0a2 2 0 1 0 -4 0M733.71 405.37a2 2 0 1 0 4 0a2 2 0 1 0 -4 0M734.66 401.90a2 2 0 1 0 4 0a2 2 0 1 0 -4 0M735.61 394.96a2 2 0 1 0 4 0a2 2 0 1 0 -4 0M736.56 394.96a2 2 0 1 0 4 0a2 2 0 1 0 -4 0M737.51 398.43a2 2 0 1 0 4 0a2 2 0 1 0 -4 0M738.46 391.50a2 2 0 1 0 4 0a2 2 0 1 0 -4 0M739.41 394.96a2 2 0 1 0 4 0a2 2 0 1 0 -4 0M740.37 401.90a2 2 0 1 0 4 0a2 2 0 1 0 -4 0M741.32 394.96a2 2 0 1 0 4 0a2 2 0 1 0 -4 0M742.27 394.96a2 2 0 1 0 4 0a2 2 0 1 0 -4 0M743.22 405.37a2 2 0 1 0 4 0a2 2 0 1 0 -4 0M744.17 398.43a2 2 0 1 0 4 0a2 2 0 1 0 -4 0M745.12 394.96a2 2 0 1 0 4 0a2 2 0 1 0 -4 0M746.07 398.43a2 2 0 1 0 4 0a2 2 0 1 0 -4 0M747.02 398.43a2 2 0 1 0 4 0a2 2 0 1 0 -4 0M747.98 401.90a2 2 0 1 0 4 0a2 2 0 1 0 -4 0M748.93 398.43a2 2 0 1 0 4 0a2 2 0 1 0 -4 0M749.88 388.03a2 2 0 1 0 4 0a2 2 0 1 0 -4 0M750.83 398.43a2 2 0 1 0 4 0a2 2 0 1 0 -4 0M751.78 398.43a2 2 0 1 0 4 0a2 2 0 1 0 -4 0M752.73 408.84a2 2 0 1 0 4 0a2 2 0 1 0 -4 0M753.68 394.96a2 2 0 1 0 4 0a2 2 0 1 0 -4 0M754.63 398.43a2 2 0 1 0 4 0a2 2 0 1 0 -4 0M755.59 398.43a2 2 0 1 0 4 0a2 2 0 1 0 -4 0M756.54 401.90a2 2 0 1 0 4 0a2 2 0 1 0 -4 0M757.49 401.90a2 2 0 1 0 4 0a2 2 0 1 0 -4 0M758.44 391.50a2 2 0 1 0 4 0a2 2 0 1 0 -4 0M759.39 401.90a2 2 0 1 0 4 0a2 2 0 1 0 -4 0M760.34 401.90a2 2 0 1 0 4 0a2 2 0 1 0 -4 0M761.29 401.90a2 2 0 1 0 4 0a2 2 0 1 0 -4 0M762.24 401.90a2 2 0 1 0 4 0a2 2 0 1 0 -4 0M763.20 405.37a2 2 0 1 0 4 0a2 2 0 1 0 -4 0M764.15 394.96a2 2 0 1 0 4 0a2 2 0 1 0 -4 0M765.10 401.90a2 2 0 1 0 4 0a2 2 0 1 0 -4 0M766.05 422.71a2 2 0 1 0 4 0a2 2 0 1 0 -4 0M767.00 394.96a2 2 0 1 0 4 0a2 2 0 1 0 -4 0M767.95 391.50a2 2 0 1 0 4 0a2 2 0 1 0 -4 0M768.90 394.96a2 2 0 1 0 4 0a2 2 0 1 0 -4 0M769.85 398.43a2 2 0 1 0 4 0a2 2 0 1 0 -4 0M770.80 398.43a2 2 0 1 0 4 0a2 2 0 1 0 -4 0M771.76 391.50a2 2 0 1 0 4 0a2 2 0 1 0 -4 0M772.71 394.96a2 2 0 1 0 4 0a2 2 0 1 0 -4 0M773.66 401.90a2 2 0 1 0 4 0a2 2 0 1 0 -4 0M774.61 394.96a2 2 0 1 0 4 0a2 2 0 1 0 -4 0M775.56 394.96a2 2 0 1 0 4 0a2 2 0 1 0 -4 0M776.51 398.43a2 2 0 1 0 4 0a2 2 0 1 0 -4 0M777.46 394.96a2 2 0 1 0 4 0a2 2 0 1 0 -4 0M778.41 401.90a2 2 0 1 0 4 0a2 2 0 1 0 -4 0M779.37 398.43a2 2 0 1 0 4 0a2 2 0 1 0 -4 0M780.32 398.43a2 2 0 1 0 4 0a2 2 0 1 0 -4 0M781.27 405.37a2 2 0 1 0 4 0a2 2 0 1 0 -4 0M782.22 398.43a2 2 0 1 0 4 0a2 2 0 1 0 -4 0M783.17 394.96a2 2 0 1 0 4 0a2 2 0 1 0 -4 0M784.12 401.90a2 2 0 1 0 4 0a2 2 0 1 0 -4 0M785.07 391.50a2 2 0 1 0 4 0a2 2 0 1 0 -4 0M786.02 401.90a2 2 0 1 0 4 0a2 2 0 1 0 -4 0M786.98 398.43a2 2 0 1 0 4 0a2 2 0 1 0 -4 0M787.93 401.90a2 2 0 1 0 4 0a2 2 0 1 0 -4 0M788.88 398.43a2 2 0 1 0 4 0a2 2 0 1 0 -4 0M789.83 401.90a2 2 0 1 0 4 0a2 2 0 1 0 -4 0M790.78 401.90a2 2 0 1 0 4 0a2 2 0 1 0 -4 0M791.73 401.90a2 2 0 1 0 4 0a2 2 0 1 0 -4 0M792.68 401.90a2 2 0 1 0 4 0a2 2 0 1 0 -4 0M793.63 401.90a2 2 0 1 0 4 0a2 2 0 1 0 -4 0M794.59 401.90a2 2 0 1 0 4 0a2 2 0 1 0 -4 0M795.54 398.43a2 2 0 1 0 4 0a2 2 0 1 0 -4 0M796.49 405.37a2 2 0 1 0 4 0a2 2 0 1 0 -4 0M797.44 398.43a2 2 0 1 0 4 0a2 2 0 1 0 -4 0M798.39 401.90a2 2 0 1 0 4 0a2 2 0 1 0 -4 0M799.34 398.43a2 2 0 1 0 4 0a2 2 0 1 0 -4 0M800.29 391.50a2 2 0 1 0 4 0a2 2 0 1 0 -4 0M801.24 401.90a2 2 0 1 0 4 0a2 2 0 1 0 -4 0M802.20 398.43a2 2 0 1 0 4 0a2 2 0 1 0 -4 0M803.15 401.90a2 2 0 1 0 4 0a2 2 0 1 0 -4 0M804.10 391.50a2 2 0 1 0 4 0a2 2 0 1 0 -4 0M805.05 401.90a2 2 0 1 0 4 0a2 2 0 1 0 -4 0M806.00 394.96a2 2 0 1 0 4 0a2 2 0 1 0 -4 0M806.95 394.96a2 2 0 1 0 4 0a2 2 0 1 0 -4 0M807.90 401.90a2 2 0 1 0 4 0a2 2 0 1 0 -4 0M808.85 398.43a2 2 0 1 0 4 0a2 2 0 1 0 -4 0M809.80 398.43a2 2 0 1 0 4 0a2 2 0 1 0 -4 0M810.76 398.43a2 2 0 1 0 4 0a2 2 0 1 0 -4 0M811.71 398.43a2 2 0 1 0 4 0a2 2 0 1 0 -4 0M812.66 398.43a2 2 0 1 0 4 0a2 2 0 1 0 -4 0M813.61 398.43a2 2 0 1 0 4 0a2 2 0 1 0 -4 0M814.56 401.90a2 2 0 1 0 4 0a2 2 0 1 0 -4 0M815.51 394.96a2 2 0 1 0 4 0a2 2 0 1 0 -4 0M816.46 405.37a2 2 0 1 0 4 0a2 2 0 1 0 -4 0M817.41 398.43a2 2 0 1 0 4 0a2 2 0 1 0 -4 0M818.37 405.37a2 2 0 1 0 4 0a2 2 0 1 0 -4 0M819.32 398.43a2 2 0 1 0 4 0a2 2 0 1 0 -4 0M820.27 394.96a2 2 0 1 0 4 0a2 2 0 1 0 -4 0M821.22 394.96a2 2 0 1 0 4 0a2 2 0 1 0 -4 0M822.17 394.96a2 2 0 1 0 4 0a2 2 0 1 0 -4 0M823.12 394.96a2 2 0 1 0 4 0a2 2 0 1 0 -4 0M824.07 398.43a2 2 0 1 0 4 0a2 2 0 1 0 -4 0M825.02 398.43a2 2 0 1 0 4 0a2 2 0 1 0 -4 0M825.98 394.96a2 2 0 1 0 4 0a2 2 0 1 0 -4 0M826.93 398.43a2 2 0 1 0 4 0a2 2 0 1 0 -4 0M827.88 391.50a2 2 0 1 0 4 0a2 2 0 1 0 -4 0M828.83 405.37a2 2 0 1 0 4 0a2 2 0 1 0 -4 0M829.78 391.50a2 2 0 1 0 4 0a2 2 0 1 0 -4 0M830.73 405.37a2 2 0 1 0 4 0a2 2 0 1 0 -4 0M831.68 391.50a2 2 0 1 0 4 0a2 2 0 1 0 -4 0M832.63 394.96a2 2 0 1 0 4 0a2 2 0 1 0 -4 0M833.59 394.96a2 2 0 1 0 4 0a2 2 0 1 0 -4 0M834.54 405.37a2 2 0 1 0 4 0a2 2 0 1 0 -4 0M835.49 398.43a2 2 0 1 0 4 0a2 2 0 1 0 -4 0M836.44 398.43a2 2 0 1 0 4 0a2 2 0 1 0 -4 0M837.39 398.43a2 2 0 1 0 4 0a2 2 0 1 0 -4 0M838.34 398.43a2 2 0 1 0 4 0a2 2 0 1 0 -4 0M839.29 401.90a2 2 0 1 0 4 0a2 2 0 1 0 -4 0M840.24 391.50a2 2 0 1 0 4 0a2 2 0 1 0 -4 0M841.20 443.52a2 2 0 1 0 4 0a2 2 0 1 0 -4 0M842.15 440.05a2 2 0 1 0 4 0a2 2 0 1 0 -4 0M843.10 394.96a2 2 0 1 0 4 0a2 2 0 1 0 -4 0M844.05 401.90a2 2 0 1 0 4 0a2 2 0 1 0 -4 0M845.00 388.03a2 2 0 1 0 4 0a2 2 0 1 0 -4 0M845.95 388.03a2 2 0 1 0 4 0a2 2 0 1 0 -4 0M846.90 394.96a2 2 0 1 0 4 0a2 2 0 1 0 -4 0M847.85 394.96a2 2 0 1 0 4 0a2 2 0 1 0 -4 0M848.80 394.96a2 2 0 1 0 4 0a2 2 0 1 0 -4 0M849.76 401.90a2 2 0 1 0 4 0a2 2 0 1 0 -4 0M850.71 401.90a2 2 0 1 0 4 0a2 2 0 1 0 -4 0M851.66 405.37a2 2 0 1 0 4 0a2 2 0 1 0 -4 0M852.61 405.37a2 2 0 1 0 4 0a2 2 0 1 0 -4 0M853.56 394.96a2 2 0 1 0 4 0a2 2 0 1 0 -4 0M854.51 391.50a2 2 0 1 0 4 0a2 2 0 1 0 -4 0M855.46 401.90a2 2 0 1 0 4 0a2 2 0 1 0 -4 0M856.41 394.96a2 2 0 1 0 4 0a2 2 0 1 0 -4 0M857.37 401.90a2 2 0 1 0 4 0a2 2 0 1 0 -4 0M858.32 394.96a2 2 0 1 0 4 0a2 2 0 1 0 -4 0M859.27 398.43a2 2 0 1 0 4 0a2 2 0 1 0 -4 0M860.22 401.90a2 2 0 1 0 4 0a2 2 0 1 0 -4 0M861.17 398.43a2 2 0 1 0 4 0a2 2 0 1 0 -4 0M862.12 388.03a2 2 0 1 0 4 0a2 2 0 1 0 -4 0M863.07 391.50a2 2 0 1 0 4 0a2 2 0 1 0 -4 0M864.02 398.43a2 2 0 1 0 4 0a2 2 0 1 0 -4 0M864.98 394.96a2 2 0 1 0 4 0a2 2 0 1 0 -4 0M865.93 391.50a2 2 0 1 0 4 0a2 2 0 1 0 -4 0M866.88 391.50a2 2 0 1 0 4 0a2 2 0 1 0 -4 0M867.83 405.37a2 2 0 1 0 4 0a2 2 0 1 0 -4 0M868.78 398.43a2 2 0 1 0 4 0a2 2 0 1 0 -4 0M869.73 398.43a2 2 0 1 0 4 0a2 2 0 1 0 -4 0M870.68 405.37a2 2 0 1 0 4 0a2 2 0 1 0 -4 0M871.63 394.96a2 2 0 1 0 4 0a2 2 0 1 0 -4 0M872.59 405.37a2 2 0 1 0 4 0a2 2 0 1 0 -4 0M873.54 394.96a2 2 0 1 0 4 0a2 2 0 1 0 -4 0M874.49 394.96a2 2 0 1 0 4 0a2 2 0 1 0 -4 0M875.44 394.96a2 2 0 1 0 4 0a2 2 0 1 0 -4 0M876.39 394.96a2 2 0 1 0 4 0a2 2 0 1 0 -4 0M877.34 394.96a2 2 0 1 0 4 0a2 2 0 1 0 -4 0M878.29 394.96a2 2 0 1 0 4 0a2 2 0 1 0 -4 0M879.24 398.43a2 2 0 1 0 4 0a2 2 0 1 0 -4 0M880.20 405.37a2 2 0 1 0 4 0a2 2 0 1 0 -4 0M881.15 401.90a2 2 0 1 0 4 0a2 2 0 1 0 -4 0M882.10 391.50a2 2 0 1 0 4 0a2 2 0 1 0 -4 0M883.05 398.43a2 2 0 1 0 4 0a2 2 0 1 0 -4 0M884.00 401.90a2 2 0 1 0 4 0a2 2 0 1 0 -4 0M884.95 401.90a2 2 0 1 0 4 0a2 2 0 1 0 -4 0M885.90 405.37a2 2 0 1 0 4 0a2 2 0 1 0 -4 0M886.85 405.37a2 2 0 1 0 4 0a2 2 0 1 0 -4 0M887.80 398.43a2 2 0 1 0 4 0a2 2 0 1 0 -4 0M888.76 398.43a2 2 0 1 0 4 0a2 2 0 1 0 -4 0M889.71 394.96a2 2 0 1 0 4 0a2 2 0 1 0 -4 0M890.66 401.90a2 2 0 1 0 4 0a2 2 0 1 0 -4 0M891.61 401.90a2 2 0 1 0 4 0a2 2 0 1 0 -4 0M892.56 394.96a2 2 0 1 0 4 0a2 2 0 1 0 -4 0M893.51 408.84a2 2 0 1 0 4 0a2 2 0 1 0 -4 0M894.46 401.90a2 2 0 1 0 4 0a2 2 0 1 0 -4 0M895.41 401.90a2 2 0 1 0 4 0a2 2 0 1 0 -4 0M896.37 398.43a2 2 0 1 0 4 0a2 2 0 1 0 -4 0M897.32 398.43a2 2 0 1 0 4 0a2 2 0 1 0 -4 0M898.27 398.43a2 2 0 1 0 4 0a2 2 0 1 0 -4 0M899.22 398.43a2 2 0 1 0 4 0a2 2 0 1 0 -4 0M900.17 398.43a2 2 0 1 0 4 0a2 2 0 1 0 -4 0M901.12 398.43a2 2 0 1 0 4 0a2 2 0 1 0 -4 0M902.07 398.43a2 2 0 1 0 4 0a2 2 0 1 0 -4 0M903.02 398.43a2 2 0 1 0 4 0a2 2 0 1 0 -4 0M903.98 398.43a2 2 0 1 0 4 0a2 2 0 1 0 -4 0M904.93 398.43a2 2 0 1 0 4 0a2 2 0 1 0 -4 0M905.88 394.96a2 2 0 1 0 4 0a2 2 0 1 0 -4 0M906.83 394.96a2 2 0 1 0 4 0a2 2 0 1 0 -4 0M907.78 394.96a2 2 0 1 0 4 0a2 2 0 1 0 -4 0M908.73 394.96a2 2 0 1 0 4 0a2 2 0 1 0 -4 0M909.68 405.37a2 2 0 1 0 4 0a2 2 0 1 0 -4 0M910.63 388.03a2 2 0 1 0 4 0a2 2 0 1 0 -4 0M911.59 398.43a2 2 0 1 0 4 0a2 2 0 1 0 -4 0M912.54 398.43a2 2 0 1 0 4 0a2 2 0 1 0 -4 0M913.49 391.50a2 2 0 1 0 4 0a2 2 0 1 0 -4 0M914.44 391.50a2 2 0 1 0 4 0a2 2 0 1 0 -4 0M915.39 394.96a2 2 0 1 0 4 0a2 2 0 1 0 -4 0M916.34 391.50a2 2 0 1 0 4 0a2 2 0 1 0 -4 0M917.29 398.43a2 2 0 1 0 4 0a2 2 0 1 0 -4 0M918.24 394.96a2 2 0 1 0 4 0a2 2 0 1 0 -4 0M919.20 394.96a2 2 0 1 0 4 0a2 2 0 1 0 -4 0M920.15 394.96a2 2 0 1 0 4 0a2 2 0 1 0 -4 0M921.10 401.90a2 2 0 1 0 4 0a2 2 0 1 0 -4 0M922.05 394.96a2 2 0 1 0 4 0a2 2 0 1 0 -4 0M923.00 401.90a2 2 0 1 0 4 0a2 2 0 1 0 -4 0M923.95 405.37a2 2 0 1 0 4 0a2 2 0 1 0 -4 0M924.90 394.96a2 2 0 1 0 4 0a2 2 0 1 0 -4 0M925.85 398.43a2 2 0 1 0 4 0a2 2 0 1 0 -4 0M926.80 394.96a2 2 0 1 0 4 0a2 2 0 1 0 -4 0M927.76 401.90a2 2 0 1 0 4 0a2 2 0 1 0 -4 0M928.71 388.03a2 2 0 1 0 4 0a2 2 0 1 0 -4 0M929.66 394.96a2 2 0 1 0 4 0a2 2 0 1 0 -4 0M930.61 401.90a2 2 0 1 0 4 0a2 2 0 1 0 -4 0M931.56 401.90a2 2 0 1 0 4 0a2 2 0 1 0 -4 0M932.51 394.96a2 2 0 1 0 4 0a2 2 0 1 0 -4 0M933.46 391.50a2 2 0 1 0 4 0a2 2 0 1 0 -4 0M934.41 398.43a2 2 0 1 0 4 0a2 2 0 1 0 -4 0M935.37 401.90a2 2 0 1 0 4 0a2 2 0 1 0 -4 0M936.32 391.50a2 2 0 1 0 4 0a2 2 0 1 0 -4 0M937.27 398.43a2 2 0 1 0 4 0a2 2 0 1 0 -4 0M938.22 391.50a2 2 0 1 0 4 0a2 2 0 1 0 -4 0M939.17 394.96a2 2 0 1 0 4 0a2 2 0 1 0 -4 0M940.12 391.50a2 2 0 1 0 4 0a2 2 0 1 0 -4 0M941.07 394.96a2 2 0 1 0 4 0a2 2 0 1 0 -4 0M942.02 401.90a2 2 0 1 0 4 0a2 2 0 1 0 -4 0M942.98 401.90a2 2 0 1 0 4 0a2 2 0 1 0 -4 0M943.93 391.50a2 2 0 1 0 4 0a2 2 0 1 0 -4 0M944.88 394.96a2 2 0 1 0 4 0a2 2 0 1 0 -4 0M945.83 398.43a2 2 0 1 0 4 0a2 2 0 1 0 -4 0M946.78 394.96a2 2 0 1 0 4 0a2 2 0 1 0 -4 0M947.73 398.43a2 2 0 1 0 4 0a2 2 0 1 0 -4 0M948.68 426.18a2 2 0 1 0 4 0a2 2 0 1 0 -4 0M949.63 401.90a2 2 0 1 0 4 0a2 2 0 1 0 -4 0M950.59 401.90a2 2 0 1 0 4 0a2 2 0 1 0 -4 0M951.54 394.96a2 2 0 1 0 4 0a2 2 0 1 0 -4 0M952.49 394.96a2 2 0 1 0 4 0a2 2 0 1 0 -4 0M953.44 405.37a2 2 0 1 0 4 0a2 2 0 1 0 -4 0M954.39 401.90a2 2 0 1 0 4 0a2 2 0 1 0 -4 0M955.34 398.43a2 2 0 1 0 4 0a2 2 0 1 0 -4 0M956.29 398.43a2 2 0 1 0 4 0a2 2 0 1 0 -4 0M957.24 401.90a2 2 0 1 0 4 0a2 2 0 1 0 -4 0M958.20 401.90a2 2 0 1 0 4 0a2 2 0 1 0 -4 0M959.15 398.43a2 2 0 1 0 4 0a2 2 0 1 0 -4 0M960.10 398.43a2 2 0 1 0 4 0a2 2 0 1 0 -4 0M961.05 401.90a2 2 0 1 0 4 0a2 2 0 1 0 -4 0M962.00 401.90a2 2 0 1 0 4 0a2 2 0 1 0 -4 0M962.95 391.50a2 2 0 1 0 4 0a2 2 0 1 0 -4 0M963.90 394.96a2 2 0 1 0 4 0a2 2 0 1 0 -4 0M964.85 401.90a2 2 0 1 0 4 0a2 2 0 1 0 -4 0M965.80 401.90a2 2 0 1 0 4 0a2 2 0 1 0 -4 0M966.76 401.90a2 2 0 1 0 4 0a2 2 0 1 0 -4 0M967.71 391.50a2 2 0 1 0 4 0a2 2 0 1 0 -4 0M968.66 394.96a2 2 0 1 0 4 0a2 2 0 1 0 -4 0M969.61 394.96a2 2 0 1 0 4 0a2 2 0 1 0 -4 0M970.56 405.37a2 2 0 1 0 4 0a2 2 0 1 0 -4 0M971.51 391.50a2 2 0 1 0 4 0a2 2 0 1 0 -4 0M972.46 398.43a2 2 0 1 0 4 0a2 2 0 1 0 -4 0M973.41 398.43a2 2 0 1 0 4 0a2 2 0 1 0 -4 0M974.37 398.43a2 2 0 1 0 4 0a2 2 0 1 0 -4 0M975.32 398.43a2 2 0 1 0 4 0a2 2 0 1 0 -4 0M976.27 398.43a2 2 0 1 0 4 0a2 2 0 1 0 -4 0M977.22 405.37a2 2 0 1 0 4 0a2 2 0 1 0 -4 0M978.17 405.37a2 2 0 1 0 4 0a2 2 0 1 0 -4 0M979.12 398.43a2 2 0 1 0 4 0a2 2 0 1 0 -4 0M980.07 401.90a2 2 0 1 0 4 0a2 2 0 1 0 -4 0M981.02 401.90a2 2 0 1 0 4 0a2 2 0 1 0 -4 0M981.98 398.43a2 2 0 1 0 4 0a2 2 0 1 0 -4 0M982.93 394.96a2 2 0 1 0 4 0a2 2 0 1 0 -4 0M983.88 394.96a2 2 0 1 0 4 0a2 2 0 1 0 -4 0M984.83 401.90a2 2 0 1 0 4 0a2 2 0 1 0 -4 0M985.78 388.03a2 2 0 1 0 4 0a2 2 0 1 0 -4 0M986.73 398.43a2 2 0 1 0 4 0a2 2 0 1 0 -4 0M987.68 398.43a2 2 0 1 0 4 0a2 2 0 1 0 -4 0M988.63 401.90a2 2 0 1 0 4 0a2 2 0 1 0 -4 0M989.59 405.37a2 2 0 1 0 4 0a2 2 0 1 0 -4 0M990.54 398.43a2 2 0 1 0 4 0a2 2 0 1 0 -4 0M991.49 394.96a2 2 0 1 0 4 0a2 2 0 1 0 -4 0M992.44 408.84a2 2 0 1 0 4 0a2 2 0 1 0 -4 0M993.39 408.84a2 2 0 1 0 4 0a2 2 0 1 0 -4 0M994.34 408.84a2 2 0 1 0 4 0a2 2 0 1 0 -4 0M995.29 405.37a2 2 0 1 0 4 0a2 2 0 1 0 -4 0M996.24 398.43a2 2 0 1 0 4 0a2 2 0 1 0 -4 0M997.20 394.96a2 2 0 1 0 4 0a2 2 0 1 0 -4 0M998.15 394.96a2 2 0 1 0 4 0a2 2 0 1 0 -4 0M999.10 398.43a2 2 0 1 0 4 0a2 2 0 1 0 -4 0M1000.05 398.43a2 2 0 1 0 4 0a2 2 0 1 0 -4 0M1001.00 398.43a2 2 0 1 0 4 0a2 2 0 1 0 -4 0M1001.95 398.43a2 2 0 1 0 4 0a2 2 0 1 0 -4 0M1002.90 398.43a2 2 0 1 0 4 0a2 2 0 1 0 -4 0M1003.85 398.43a2 2 0 1 0 4 0a2 2 0 1 0 -4 0M1004.80 398.43a2 2 0 1 0 4 0a2 2 0 1 0 -4 0M1005.76 398.43a2 2 0 1 0 4 0a2 2 0 1 0 -4 0M1006.71 391.50a2 2 0 1 0 4 0a2 2 0 1 0 -4 0M1007.66 398.43a2 2 0 1 0 4 0a2 2 0 1 0 -4 0M1008.61 398.43a2 2 0 1 0 4 0a2 2 0 1 0 -4 0M1009.56 391.50a2 2 0 1 0 4 0a2 2 0 1 0 -4 0M1010.51 401.90a2 2 0 1 0 4 0a2 2 0 1 0 -4 0M1011.46 391.50a2 2 0 1 0 4 0a2 2 0 1 0 -4 0M1012.41 394.96a2 2 0 1 0 4 0a2 2 0 1 0 -4 0M1013.37 394.96a2 2 0 1 0 4 0a2 2 0 1 0 -4 0M1014.32 398.43a2 2 0 1 0 4 0a2 2 0 1 0 -4 0M1015.27 394.96a2 2 0 1 0 4 0a2 2 0 1 0 -4 0M1016.22 394.96a2 2 0 1 0 4 0a2 2 0 1 0 -4 0M1017.17 398.43a2 2 0 1 0 4 0a2 2 0 1 0 -4 0M1018.12 398.43a2 2 0 1 0 4 0a2 2 0 1 0 -4 0M1019.07 391.50a2 2 0 1 0 4 0a2 2 0 1 0 -4 0M1020.02 398.43a2 2 0 1 0 4 0a2 2 0 1 0 -4 0M1020.98 398.43a2 2 0 1 0 4 0a2 2 0 1 0 -4 0M1021.93 398.43a2 2 0 1 0 4 0a2 2 0 1 0 -4 0M1022.88 398.43a2 2 0 1 0 4 0a2 2 0 1 0 -4 0M1023.83 394.96a2 2 0 1 0 4 0a2 2 0 1 0 -4 0M1024.78 401.90a2 2 0 1 0 4 0a2 2 0 1 0 -4 0M1025.73 408.84a2 2 0 1 0 4 0a2 2 0 1 0 -4 0M1026.68 401.90a2 2 0 1 0 4 0a2 2 0 1 0 -4 0M1027.63 408.84a2 2 0 1 0 4 0a2 2 0 1 0 -4 0M1028.59 398.43a2 2 0 1 0 4 0a2 2 0 1 0 -4 0M1029.54 405.37a2 2 0 1 0 4 0a2 2 0 1 0 -4 0M1030.49 405.37a2 2 0 1 0 4 0a2 2 0 1 0 -4 0M1031.44 398.43a2 2 0 1 0 4 0a2 2 0 1 0 -4 0M1032.39 398.43a2 2 0 1 0 4 0a2 2 0 1 0 -4 0M1033.34 401.90a2 2 0 1 0 4 0a2 2 0 1 0 -4 0M1034.29 401.90a2 2 0 1 0 4 0a2 2 0 1 0 -4 0M1035.24 401.90a2 2 0 1 0 4 0a2 2 0 1 0 -4 0M1036.20 401.90a2 2 0 1 0 4 0a2 2 0 1 0 -4 0M1037.15 401.90a2 2 0 1 0 4 0a2 2 0 1 0 -4 0M1038.10 398.43a2 2 0 1 0 4 0a2 2 0 1 0 -4 0M1039.05 398.43a2 2 0 1 0 4 0a2 2 0 1 0 -4 0M1040.00 394.96a2 2 0 1 0 4 0a2 2 0 1 0 -4 0M1040.95 488.60a2 2 0 1 0 4 0a2 2 0 1 0 -4 0M1041.90 398.43a2 2 0 1 0 4 0a2 2 0 1 0 -4 0M1042.85 398.43a2 2 0 1 0 4 0a2 2 0 1 0 -4 0M1043.80 401.90a2 2 0 1 0 4 0a2 2 0 1 0 -4 0M1044.76 398.43a2 2 0 1 0 4 0a2 2 0 1 0 -4 0M1045.71 394.96a2 2 0 1 0 4 0a2 2 0 1 0 -4 0M1046.66 394.96a2 2 0 1 0 4 0a2 2 0 1 0 -4 0M1047.61 398.43a2 2 0 1 0 4 0a2 2 0 1 0 -4 0M1048.56 401.90a2 2 0 1 0 4 0a2 2 0 1 0 -4 0M1049.51 398.43a2 2 0 1 0 4 0a2 2 0 1 0 -4 0M1050.46 401.90a2 2 0 1 0 4 0a2 2 0 1 0 -4 0M1051.41 391.50a2 2 0 1 0 4 0a2 2 0 1 0 -4 0M1052.37 398.43a2 2 0 1 0 4 0a2 2 0 1 0 -4 0M1053.32 401.90a2 2 0 1 0 4 0a2 2 0 1 0 -4 0M1054.27 398.43a2 2 0 1 0 4 0a2 2 0 1 0 -4 0M1055.22 391.50a2 2 0 1 0 4 0a2 2 0 1 0 -4 0M1056.17 398.43a2 2 0 1 0 4 0a2 2 0 1 0 -4 0M1057.12 394.96a2 2 0 1 0 4 0a2 2 0 1 0 -4 0M1058.07 394.96a2 2 0 1 0 4 0a2 2 0 1 0 -4 0M1059.02 401.90a2 2 0 1 0 4 0a2 2 0 1 0 -4 0M1059.98 398.43a2 2 0 1 0 4 0a2 2 0 1 0 -4 0M1060.93 391.50a2 2 0 1 0 4 0a2 2 0 1 0 -4 0M1061.88 398.43a2 2 0 1 0 4 0a2 2 0 1 0 -4 0M1062.83 401.90a2 2 0 1 0 4 0a2 2 0 1 0 -4 0M1063.78 398.43a2 2 0 1 0 4 0a2 2 0 1 0 -4 0M1064.73 405.37a2 2 0 1 0 4 0a2 2 0 1 0 -4 0M1065.68 401.90a2 2 0 1 0 4 0a2 2 0 1 0 -4 0M1066.63 394.96a2 2 0 1 0 4 0a2 2 0 1 0 -4 0M1067.59 394.96a2 2 0 1 0 4 0a2 2 0 1 0 -4 0M1068.54 398.43a2 2 0 1 0 4 0a2 2 0 1 0 -4 0M1069.49 398.43a2 2 0 1 0 4 0a2 2 0 1 0 -4 0M1070.44 391.50a2 2 0 1 0 4 0a2 2 0 1 0 -4 0M1071.39 391.50a2 2 0 1 0 4 0a2 2 0 1 0 -4 0M1072.34 391.50a2 2 0 1 0 4 0a2 2 0 1 0 -4 0M1073.29 398.43a2 2 0 1 0 4 0a2 2 0 1 0 -4 0M1074.24 398.43a2 2 0 1 0 4 0a2 2 0 1 0 -4 0M1075.20 394.96a2 2 0 1 0 4 0a2 2 0 1 0 -4 0M1076.15 394.96a2 2 0 1 0 4 0a2 2 0 1 0 -4 0M1077.10 394.96a2 2 0 1 0 4 0a2 2 0 1 0 -4 0M1078.05 394.96a2 2 0 1 0 4 0a2 2 0 1 0 -4 0M1079.00 394.96a2 2 0 1 0 4 0a2 2 0 1 0 -4 0M1079.95 394.96a2 2 0 1 0 4 0a2 2 0 1 0 -4 0M1080.90 401.90a2 2 0 1 0 4 0a2 2 0 1 0 -4 0M1081.85 398.43a2 2 0 1 0 4 0a2 2 0 1 0 -4 0M1082.80 398.43a2 2 0 1 0 4 0a2 2 0 1 0 -4 0M1083.76 391.50a2 2 0 1 0 4 0a2 2 0 1 0 -4 0M1084.71 391.50a2 2 0 1 0 4 0a2 2 0 1 0 -4 0M1085.66 394.96a2 2 0 1 0 4 0a2 2 0 1 0 -4 0M1086.61 391.50a2 2 0 1 0 4 0a2 2 0 1 0 -4 0M1087.56 401.90a2 2 0 1 0 4 0a2 2 0 1 0 -4 0M1088.51 391.50a2 2 0 1 0 4 0a2 2 0 1 0 -4 0M1089.46 401.90a2 2 0 1 0 4 0a2 2 0 1 0 -4 0M1090.41 394.96a2 2 0 1 0 4 0a2 2 0 1 0 -4 0M1091.37 398.43a2 2 0 1 0 4 0a2 2 0 1 0 -4 0M1092.32 401.90a2 2 0 1 0 4 0a2 2 0 1 0 -4 0M1093.27 391.50a2 2 0 1 0 4 0a2 2 0 1 0 -4 0M1094.22 391.50a2 2 0 1 0 4 0a2 2 0 1 0 -4 0M1095.17 398.43a2 2 0 1 0 4 0a2 2 0 1 0 -4 0M1096.12 405.37a2 2 0 1 0 4 0a2 2 0 1 0 -4 0M1097.07 398.43a2 2 0 1 0 4 0a2 2 0 1 0 -4 0M1098.02 394.96a2 2 0 1 0 4 0a2 2 0 1 0 -4 0M1098.98 394.96a2 2 0 1 0 4 0a2 2 0 1 0 -4 0M1099.93 394.96a2 2 0 1 0 4 0a2 2 0 1 0 -4 0M1100.88 401.90a2 2 0 1 0 4 0a2 2 0 1 0 -4 0M1101.83 401.90a2 2 0 1 0 4 0a2 2 0 1 0 -4 0M1102.78 401.90a2 2 0 1 0 4 0a2 2 0 1 0 -4 0M1103.73 394.96a2 2 0 1 0 4 0a2 2 0 1 0 -4 0M1104.68 394.96a2 2 0 1 0 4 0a2 2 0 1 0 -4 0M1105.63 405.37a2 2 0 1 0 4 0a2 2 0 1 0 -4 0M1106.59 398.43a2 2 0 1 0 4 0a2 2 0 1 0 -4 0M1107.54 398.43a2 2 0 1 0 4 0a2 2 0 1 0 -4 0M1108.49 398.43a2 2 0 1 0 4 0a2 2 0 1 0 -4 0M1109.44 405.37a2 2 0 1 0 4 0a2 2 0 1 0 -4 0M1110.39 398.43a2 2 0 1 0 4 0a2 2 0 1 0 -4 0M1111.34 401.90a2 2 0 1 0 4 0a2 2 0 1 0 -4 0M1112.29 398.43a2 2 0 1 0 4 0a2 2 0 1 0 -4 0M1113.24 394.96a2 2 0 1 0 4 0a2 2 0 1 0 -4 0M1114.20 394.96a2 2 0 1 0 4 0a2 2 0 1 0 -4 0M1115.15 405.37a2 2 0 1 0 4 0a2 2 0 1 0 -4 0M1116.10 398.43a2 2 0 1 0 4 0a2 2 0 1 0 -4 0M1117.05 394.96a2 2 0 1 0 4 0a2 2 0 1 0 -4 0M1118.00 394.96a2 2 0 1 0 4 0a2 2 0 1 0 -4 0M1118.95 394.96a2 2 0 1 0 4 0a2 2 0 1 0 -4 0M1119.90 394.96a2 2 0 1 0 4 0a2 2 0 1 0 -4 0M1120.85 401.90a2 2 0 1 0 4 0a2 2 0 1 0 -4 0M1121.80 398.43a2 2 0 1 0 4 0a2 2 0 1 0 -4 0M1122.76 398.43a2 2 0 1 0 4 0a2 2 0 1 0 -4 0M1123.71 391.50a2 2 0 1 0 4 0a2 2 0 1 0 -4 0M1124.66 394.96a2 2 0 1 0 4 0a2 2 0 1 0 -4 0M1125.61 398.43a2 2 0 1 0 4 0a2 2 0 1 0 -4 0M1126.56 401.90a2 2 0 1 0 4 0a2 2 0 1 0 -4 0M1127.51 394.96a2 2 0 1 0 4 0a2 2 0 1 0 -4 0M1128.46 398.43a2 2 0 1 0 4 0a2 2 0 1 0 -4 0M1129.41 398.43a2 2 0 1 0 4 0a2 2 0 1 0 -4 0M1130.37 401.90a2 2 0 1 0 4 0a2 2 0 1 0 -4 0M1131.32 398.43a2 2 0 1 0 4 0a2 2 0 1 0 -4 0M1132.27 391.50a2 2 0 1 0 4 0a2 2 0 1 0 -4 0M1133.22 394.96a2 2 0 1 0 4 0a2 2 0 1 0 -4 0M1134.17 398.43a2 2 0 1 0 4 0a2 2 0 1 0 -4 0M1135.12 398.43a2 2 0 1 0 4 0a2 2 0 1 0 -4 0M1136.07 398.43a2 2 0 1 0 4 0a2 2 0 1 0 -4 0M1137.02 398.43a2 2 0 1 0 4 0a2 2 0 1 0 -4 0M1137.98 401.90a2 2 0 1 0 4 0a2 2 0 1 0 -4 0M1138.93 401.90a2 2 0 1 0 4 0a2 2 0 1 0 -4 0M1139.88 401.90a2 2 0 1 0 4 0a2 2 0 1 0 -4 0M1140.83 398.43a2 2 0 1 0 4 0a2 2 0 1 0 -4 0M1141.78 405.37a2 2 0 1 0 4 0a2 2 0 1 0 -4 0M1142.73 398.43a2 2 0 1 0 4 0a2 2 0 1 0 -4 0M1143.68 401.90a2 2 0 1 0 4 0a2 2 0 1 0 -4 0M1144.63 394.96a2 2 0 1 0 4 0a2 2 0 1 0 -4 0M1145.59 391.50a2 2 0 1 0 4 0a2 2 0 1 0 -4 0M1146.54 394.96a2 2 0 1 0 4 0a2 2 0 1 0 -4 0M1147.49 394.96a2 2 0 1 0 4 0a2 2 0 1 0 -4 0M1148.44 391.50a2 2 0 1 0 4 0a2 2 0 1 0 -4 0M1149.39 405.37a2 2 0 1 0 4 0a2 2 0 1 0 -4 0M1150.34 405.37a2 2 0 1 0 4 0a2 2 0 1 0 -4 0M1151.29 422.71a2 2 0 1 0 4 0a2 2 0 1 0 -4 0M1152.24 394.96a2 2 0 1 0 4 0a2 2 0 1 0 -4 0M1153.20 388.03a2 2 0 1 0 4 0a2 2 0 1 0 -4 0M1154.15 401.90a2 2 0 1 0 4 0a2 2 0 1 0 -4 0M1155.10 405.37a2 2 0 1 0 4 0a2 2 0 1 0 -4 0M1156.05 401.90a2 2 0 1 0 4 0a2 2 0 1 0 -4 0M1157.00 401.90a2 2 0 1 0 4 0a2 2 0 1 0 -4 0M1157.95 398.43a2 2 0 1 0 4 0a2 2 0 1 0 -4 0M1158.90 394.96a2 2 0 1 0 4 0a2 2 0 1 0 -4 0M1159.85 398.43a2 2 0 1 0 4 0a2 2 0 1 0 -4 0M1160.80 391.50a2 2 0 1 0 4 0a2 2 0 1 0 -4 0M1161.76 401.90a2 2 0 1 0 4 0a2 2 0 1 0 -4 0M1162.71 398.43a2 2 0 1 0 4 0a2 2 0 1 0 -4 0M1163.66 398.43a2 2 0 1 0 4 0a2 2 0 1 0 -4 0M1164.61 394.96a2 2 0 1 0 4 0a2 2 0 1 0 -4 0M1165.56 394.96a2 2 0 1 0 4 0a2 2 0 1 0 -4 0M1166.51 398.43a2 2 0 1 0 4 0a2 2 0 1 0 -4 0M1167.46 391.50a2 2 0 1 0 4 0a2 2 0 1 0 -4 0M1168.41 398.43a2 2 0 1 0 4 0a2 2 0 1 0 -4 0M1169.37 405.37a2 2 0 1 0 4 0a2 2 0 1 0 -4 0M1170.32 405.37a2 2 0 1 0 4 0a2 2 0 1 0 -4 0M1171.27 405.37a2 2 0 1 0 4 0a2 2 0 1 0 -4 0M1172.22 388.03a2 2 0 1 0 4 0a2 2 0 1 0 -4 0M1173.17 394.96a2 2 0 1 0 4 0a2 2 0 1 0 -4 0M1174.12 408.84a2 2 0 1 0 4 0a2 2 0 1 0 -4 0M1175.07 401.90a2 2 0 1 0 4 0a2 2 0 1 0 -4 0M1176.02 401.90a2 2 0 1 0 4 0a2 2 0 1 0 -4 0M1176.98 394.96a2 2 0 1 0 4 0a2 2 0 1 0 -4 0M1177.93 405.37a2 2 0 1 0 4 0a2 2 0 1 0 -4 0M1178.88 401.90a2 2 0 1 0 4 0a2 2 0 1 0 -4 0M1179.83 401.90a2 2 0 1 0 4 0a2 2 0 1 0 -4 0M1180.78 401.90a2 2 0 1 0 4 0a2 2 0 1 0 -4 0M1181.73 394.96a2 2 0 1 0 4 0a2 2 0 1 0 -4 0M1182.68 388.03a2 2 0 1 0 4 0a2 2 0 1 0 -4 0M1183.63 401.90a2 2 0 1 0 4 0a2 2 0 1 0 -4 0M1184.59 408.84a2 2 0 1 0 4 0a2 2 0 1 0 -4 0M1185.54 394.96a2 2 0 1 0 4 0a2 2 0 1 0 -4 0M1186.49 398.43a2 2 0 1 0 4 0a2 2 0 1 0 -4 0M1187.44 388.03a2 2 0 1 0 4 0a2 2 0 1 0 -4 0M1188.39 401.90a2 2 0 1 0 4 0a2 2 0 1 0 -4 0M1189.34 401.90a2 2 0 1 0 4 0a2 2 0 1 0 -4 0M1190.29 394.96a2 2 0 1 0 4 0a2 2 0 1 0 -4 0M1191.24 408.84a2 2 0 1 0 4 0a2 2 0 1 0 -4 0M1192.20 401.90a2 2 0 1 0 4 0a2 2 0 1 0 -4 0M1193.15 398.43a2 2 0 1 0 4 0a2 2 0 1 0 -4 0M1194.10 401.90a2 2 0 1 0 4 0a2 2 0 1 0 -4 0M1195.05 398.43a2 2 0 1 0 4 0a2 2 0 1 0 -4 0M1196.00 394.96a2 2 0 1 0 4 0a2 2 0 1 0 -4 0" fill="#ae4ab8"/><g font-family="Liberation Sans, sans-serif" font-size="12" fill="#555"><text x="55" y="557.5" text-anchor="end">0</text><text x="55" y="536.7" text-anchor="end">6</text><text x="55" y="515.9" text-anchor="end">12</text><text x="55" y="495.1" text-anchor="end">18</text><text x="55" y="474.3" text-anchor="end">24</text><text x="55" y="453.5" text-anchor="end">30</text><text x="55" y="432.6" text-anchor="end">36</text><text x="55" y="411.8" text-anchor="end">42</text><text x="55" y="391.0" text-anchor="end">48</text><text x="55" y="370.2" text-anchor="end">54</text><text x="55" y="349.4" text-anchor="end">60</text><text x="55" y="328.6" text-anchor="end">66</text><text x="1209" y="557.0">0</text><text x="1209" y="442.6">1</text><text x="1209" y="328.1">2</text><text x="67" y="573.4" font-size="11.6">00:00</text><text x="123.7" y="573.4" font-size="11.6" text-anchor="middle">01:00</text><text x="180.7" y="573.4" font-size="11.6" text-anchor="middle">02:00</text><text x="237.6" y="573.4" font-size="11.6" text-anchor="middle">03:00</text><text x="294.6" y="573.4" font-size="11.6" text-anchor="middle">04:00</text><text x="351.5" y="573.4" font-size="11.6" text-anchor="middle">05:00</text><text x="408.5" y="573.4" font-size="11.6" text-anchor="middle">06:00</text><text x="465.4" y="573.4" font-size="11.6" text-anchor="middle">07:00</text><text x="522.3" y="573.4" font-size="11.6" text-anchor="middle">08:00</text><text x="579.3" y="573.4" font-size="11.6" text-anchor="middle">09:00</text><text x="636.2" y="573.4" font-size="11.6" text-anchor="middle">10:00</text><text x="693.2" y="573.4" font-size="11.6" text-anchor="middle">11:00</text><text x="750.1" y="573.4" font-size="11.6" text-anchor="middle">12:00</text><text x="807.0" y="573.4" font-size="11.6" text-anchor="middle">13:00</text><text x="864.0" y="573.4" font-size="11.6" text-anchor="middle">14:00</text><text x="920.9" y="573.4" font-size="11.6" text-anchor="middle">15:00</text><text x="977.9" y="573.4" font-size="11.6" text-anchor="middle">16:00</text><text x="1034.8" y="573.4" font-size="11.6" text-anchor="middle">17:00</text><text x="1091.8" y="573.4" font-size="11.6" text-anchor="middle">18:00</text><text x="1148.7" y="573.4" font-size="11.6" text-anchor="middle">19:00</text></g></svg>
<div style="position:absolute;left:15px;top:6px;width:3px;height:19px;background:#4a6cf2"></div>
<div style="position:absolute;left:15px;top:41px;width:1233px;height:1px;background:#e6e6e6"></div>
<div style="position:absolute;left:1222.3px;top:2.2px;width:26.8px;height:26.8px;border:1px solid #b0b0b0;border-radius:50%;box-sizing:border-box"></div>
<svg style="position:absolute;left:1229px;top:12px" width="14" height="9" viewBox="0 0 14 9"><path d="M2.7 1.7 L11.2 1.7 L6.95 6.9 Z" fill="#555"/></svg>
<div style="position:absolute;left:66px;top:278px;width:1132px;height:26px;background:#dc5d67"></div>
<div style="position:absolute;left:1048px;top:242px;width:51px;height:20px;border:1px solid #c8c8c8;box-sizing:border-box"></div>
<div style="position:absolute;left:1106px;top:242px;width:51px;height:20px;border:1px solid #c8c8c8;box-sizing:border-box"></div>
<div style="position:absolute;left:86px;top:584px;width:1092px;height:14px;box-sizing:border-box;border-top:1px solid #6d9fcf;border-bottom:1px solid #5f9cd6;background:linear-gradient(#7dbcf3,#58aaf1 45%,#4fa5f0)"></div>
<div style="position:absolute;left:66px;top:581px;width:21px;height:19px;border:1px solid #b3b3b3;background:linear-gradient(90deg,#f4f4f4,#e6e6e6 60%,#d6d6d6);box-sizing:border-box"></div>
<div style="position:absolute;left:1177px;top:581px;width:21px;height:19px;border:1px solid #b3b3b3;background:linear-gradient(90deg,#f4f4f4,#e6e6e6 60%,#d6d6d6);box-sizing:border-box"></div>
<svg style="position:absolute;left:66px;top:581px" width="21" height="19"><rect x="6.4" y="6" width="1.5" height="7.5" fill="#70737c"/><rect x="9.1" y="6" width="1.5" height="7.5" fill="#70737c"/><rect x="11.9" y="6" width="1.5" height="7.5" fill="#70737c"/></svg>
<svg style="position:absolute;left:1177px;top:581px" width="21" height="19"><rect x="6.4" y="6" width="1.5" height="7.5" fill="#70737c"/><rect x="9.1" y="6" width="1.5" height="7.5" fill="#70737c"/><rect x="11.9" y="6" width="1.5" height="7.5" fill="#70737c"/></svg>
<span class="t" style="left:23.76px;top:8.30px;font-size:15px;line-height:15px;font-weight:400;-webkit-text-stroke:0.28px #222;color:#222;transform:scaleX(1.0429)">FPS</span><span class="t" style="left:45.20px;top:79.80px;font-size:12px;line-height:12px;font-weight:400;color:#6e6e6e;transform:scaleX(0.9431)">Avg(FPS)</span><span class="t" style="left:111.63px;top:79.80px;font-size:12px;line-height:12px;font-weight:400;color:#6e6e6e;transform:scaleX(0.9729)">Smooth(稳帧指数)</span><span class="t" style="left:239.73px;top:79.80px;font-size:12px;line-height:12px;font-weight:400;color:#6e6e6e;transform:scaleX(0.9708)">Std(FPS)</span><span class="t" style="left:307.50px;top:79.80px;font-size:12px;line-height:12px;font-weight:400;color:#6e6e6e;transform:scaleX(0.9542)">Var(FPS)</span><span class="t" style="left:372.21px;top:79.80px;font-size:12px;line-height:12px;font-weight:400;color:#6e6e6e;transform:scaleX(0.9900)">FPS&gt;=18 [%]</span><span class="t" style="left:460.59px;top:79.80px;font-size:12px;line-height:12px;font-weight:400;color:#6e6e6e;transform:scaleX(1.0129)">FPS&gt;=25 [%]</span><span class="t" style="left:550.87px;top:79.80px;font-size:12px;line-height:12px;font-weight:400;color:#6e6e6e;transform:scaleX(1.0329)">Drop(FPS) [/h]</span><span class="t" style="left:662.33px;top:63.50px;font-size:12px;line-height:12px;font-weight:400;color:#6e6e6e;transform:scaleX(0.9682)">SmallJank(微小卡顿)</span><span class="t" style="left:693.54px;top:79.80px;font-size:12px;line-height:12px;font-weight:400;color:#6e6e6e;transform:scaleX(1.0571)">(/10min)</span><span class="t" style="left:804.40px;top:63.50px;font-size:12px;line-height:12px;font-weight:400;color:#6e6e6e;transform:scaleX(0.9667)">Jank(卡顿)</span><span class="t" style="left:808.45px;top:79.80px;font-size:12px;line-height:12px;font-weight:400;color:#6e6e6e;transform:scaleX(1.0524)">(/10min)</span><span class="t" style="left:892.82px;top:63.50px;font-size:12px;line-height:12px;font-weight:400;color:#6e6e6e;transform:scaleX(0.9814)">BigJank(严重卡顿)</span><span class="t" style="left:918.47px;top:79.80px;font-size:12px;line-height:12px;font-weight:400;color:#6e6e6e;transform:scaleX(1.0286)">(/10min)</span><span class="t" style="left:1021.97px;top:79.80px;font-size:12px;line-height:12px;font-weight:400;color:#6e6e6e;transform:scaleX(1.0327)">Stutter(卡顿率) [%]</span><span class="t" style="left:1143.00px;top:79.80px;font-size:12px;line-height:12px;font-weight:400;color:#6e6e6e;transform:scaleX(0.9655)">Avg(InterFrame)</span><span class="t" style="left:46.00px;top:112.30px;font-size:24px;line-height:24px;font-weight:400;-webkit-text-stroke:0.70px #262626;color:#262626;transform:scaleX(1.0000)">48.2</span><span class="t" style="left:247.50px;top:112.30px;font-size:24px;line-height:24px;font-weight:400;-webkit-text-stroke:0.70px #262626;color:#262626;transform:scaleX(0.9970)">4.9</span><span class="t" style="left:306.47px;top:112.30px;font-size:24px;line-height:24px;font-weight:400;-webkit-text-stroke:0.70px #262626;color:#262626;transform:scaleX(1.0267)">24.5</span><span class="t" style="left:389.80px;top:112.30px;font-size:24px;line-height:24px;font-weight:400;-webkit-text-stroke:0.70px #262626;color:#262626;transform:scaleX(0.8974)">100</span><span class="t" style="left:472.98px;top:112.30px;font-size:24px;line-height:24px;font-weight:400;-webkit-text-stroke:0.70px #262626;color:#262626;transform:scaleX(1.0178)">99.8</span><span class="t" style="left:578.17px;top:112.30px;font-size:24px;line-height:24px;font-weight:400;-webkit-text-stroke:0.70px #262626;color:#262626;transform:scaleX(0.8333)">21.1</span><span class="t" style="left:819.56px;top:112.30px;font-size:24px;line-height:24px;font-weight:400;-webkit-text-stroke:0.70px #262626;color:#262626;transform:scaleX(0.8400)">10.1</span><span class="t" style="left:928.97px;top:112.30px;font-size:24px;line-height:24px;font-weight:400;-webkit-text-stroke:0.70px #262626;color:#262626;transform:scaleX(0.8311)">10.1</span><span class="t" style="left:1057.40px;top:112.30px;font-size:24px;line-height:24px;font-weight:400;-webkit-text-stroke:0.70px #262626;color:#262626;transform:scaleX(0.9788)">0.4</span><span class="t" style="left:1179.30px;top:112.30px;font-size:24px;line-height:24px;font-weight:400;-webkit-text-stroke:0.70px #262626;color:#262626;transform:scaleX(0.9462)">0</span><span class="t" style="left:44.80px;top:163.80px;font-size:12px;line-height:12px;font-weight:400;color:#6e6e6e;transform:scaleX(0.9590)">Avg(FPS+InterFrame)</span><span class="t" style="left:176.40px;top:163.80px;font-size:12px;line-height:12px;font-weight:400;color:#6e6e6e;transform:scaleX(1.0069)">Avg(FTime) [ms]</span><span class="t" style="left:281.71px;top:163.80px;font-size:12px;line-height:12px;font-weight:400;color:#6e6e6e;transform:scaleX(0.9931)">Std(FTime)</span><span class="t" style="left:360.40px;top:163.80px;font-size:12px;line-height:12px;font-weight:400;color:#6e6e6e;transform:scaleX(0.9695)">Var(FTime)</span><span class="t" style="left:436.60px;top:163.80px;font-size:12px;line-height:12px;font-weight:400;color:#6e6e6e;transform:scaleX(0.9971)">FTime&gt;=100ms [%]</span><span class="t" style="left:558.99px;top:163.80px;font-size:12px;line-height:12px;font-weight:400;color:#6e6e6e;transform:scaleX(1.0076)">Delta(FTime)&gt;100ms [/h]</span><span class="t" style="left:77.60px;top:196.20px;font-size:24px;line-height:24px;font-weight:400;-webkit-text-stroke:0.70px #262626;color:#262626;transform:scaleX(1.0130)">48.2</span><span class="t" style="left:196.51px;top:196.20px;font-size:24px;line-height:24px;font-weight:400;-webkit-text-stroke:0.70px #262626;color:#262626;transform:scaleX(0.9889)">20.7</span><span class="t" style="left:293.97px;top:196.20px;font-size:24px;line-height:24px;font-weight:400;-webkit-text-stroke:0.70px #262626;color:#262626;transform:scaleX(1.0312)">8.9</span><span class="t" style="left:365.60px;top:196.20px;font-size:24px;line-height:24px;font-weight:400;-webkit-text-stroke:0.70px #262626;color:#262626;transform:scaleX(1.0044)">79.2</span><span class="t" style="left:482.10px;top:196.20px;font-size:24px;line-height:24px;font-weight:400;-webkit-text-stroke:0.70px #262626;color:#262626;transform:scaleX(1.0000)">0</span><span class="t" style="left:608.70px;top:196.20px;font-size:24px;line-height:24px;font-weight:400;-webkit-text-stroke:0.70px #262626;color:#262626;transform:scaleX(1.0022)">60.4</span><span class="t" style="left:27.27px;top:247.60px;font-size:16px;line-height:16px;font-weight:700;color:#111;transform:scaleX(0.9333)">FPS</span><span class="t" style="left:996.85px;top:246.30px;font-size:12px;line-height:12px;font-weight:400;color:#444;transform:scaleX(0.9500)">FPS(&gt;=)</span><span class="t" style="left:1065.46px;top:245.80px;font-size:13px;line-height:13px;font-weight:400;color:#333;transform:scaleX(1.0385)">18</span><span class="t" style="left:1123.42px;top:245.80px;font-size:13px;line-height:13px;font-weight:400;color:#333;transform:scaleX(1.0769)">25</span><span class="t" style="left:1173.50px;top:246.50px;font-size:13px;line-height:13px;font-weight:400;-webkit-text-stroke:0.32px #3f73ee;color:#3f73ee;transform:scaleX(0.9346)">重置</span><span class="t" style="left:617.12px;top:286.20px;font-size:11px;line-height:11px;font-weight:400;color:#fff;transform:scaleX(0.9786)">label1</span><span class="t" style="left:161.50px;top:111.20px;font-size:24px;line-height:24px;font-weight:400;-webkit-text-stroke:0.70px #262626;color:#262626;transform:scaleX(0.8143)">–</span><span class="t" style="left:718.40px;top:111.20px;font-size:24px;line-height:24px;font-weight:400;-webkit-text-stroke:0.70px #262626;color:#262626;transform:scaleX(0.8286)">–</span><span class="t" style="left:23.00px;top:461.84px;font-size:12px;line-height:12px;font-weight:400;-webkit-text-stroke:0.42px #333;color:#333;transform:rotate(-90deg) scaleX(0.9364)">FPS</span><span class="t" style="left:1234.30px;top:414.80px;font-size:12px;line-height:12px;font-weight:400;-webkit-text-stroke:0.42px #333;color:#333;transform:rotate(90deg) scaleX(0.9880)">Jank</span>
<span class="q" style="left:208.2px;top:79.0px;width:13.2px;height:13.2px;"><svg width="13.2" height="13.2" viewBox="0 0 14 14"><circle cx="7" cy="7" r="7" fill="#a6aabb"/><path d="M4.9 5.3c0-1.3 1-2.1 2.2-2.1s2.2.8 2.2 2c0 1.4-1.6 1.6-1.6 2.9" fill="none" stroke="#fff" stroke-width="1.6" stroke-linecap="round"/><circle cx="7.7" cy="10.5" r="0.95" fill="#fff"/></svg></span><span class="q" style="left:631.1px;top:79.0px;width:13.2px;height:13.2px;"><svg width="13.2" height="13.2" viewBox="0 0 14 14"><circle cx="7" cy="7" r="7" fill="#a6aabb"/><path d="M4.9 5.3c0-1.3 1-2.1 2.2-2.1s2.2.8 2.2 2c0 1.4-1.6 1.6-1.6 2.9" fill="none" stroke="#fff" stroke-width="1.6" stroke-linecap="round"/><circle cx="7.7" cy="10.5" r="0.95" fill="#fff"/></svg></span><span class="q" style="left:741.0px;top:79.0px;width:13.2px;height:13.2px;"><svg width="13.2" height="13.2" viewBox="0 0 14 14"><circle cx="7" cy="7" r="7" fill="#a6aabb"/><path d="M4.9 5.3c0-1.3 1-2.1 2.2-2.1s2.2.8 2.2 2c0 1.4-1.6 1.6-1.6 2.9" fill="none" stroke="#fff" stroke-width="1.6" stroke-linecap="round"/><circle cx="7.7" cy="10.5" r="0.95" fill="#fff"/></svg></span><span class="q" style="left:861.2px;top:79.0px;width:13.2px;height:13.2px;"><svg width="13.2" height="13.2" viewBox="0 0 14 14"><circle cx="7" cy="7" r="7" fill="#a6aabb"/><path d="M4.9 5.3c0-1.3 1-2.1 2.2-2.1s2.2.8 2.2 2c0 1.4-1.6 1.6-1.6 2.9" fill="none" stroke="#fff" stroke-width="1.6" stroke-linecap="round"/><circle cx="7.7" cy="10.5" r="0.95" fill="#fff"/></svg></span><span class="q" style="left:965.7px;top:79.0px;width:13.2px;height:13.2px;"><svg width="13.2" height="13.2" viewBox="0 0 14 14"><circle cx="7" cy="7" r="7" fill="#a6aabb"/><path d="M4.9 5.3c0-1.3 1-2.1 2.2-2.1s2.2.8 2.2 2c0 1.4-1.6 1.6-1.6 2.9" fill="none" stroke="#fff" stroke-width="1.6" stroke-linecap="round"/><circle cx="7.7" cy="10.5" r="0.95" fill="#fff"/></svg></span><span class="q" style="left:693.0px;top:163.4px;width:13.2px;height:13.2px;"><svg width="13.2" height="13.2" viewBox="0 0 14 14"><circle cx="7" cy="7" r="7" fill="#a6aabb"/><path d="M4.9 5.3c0-1.3 1-2.1 2.2-2.1s2.2.8 2.2 2c0 1.4-1.6 1.6-1.6 2.9" fill="none" stroke="#fff" stroke-width="1.6" stroke-linecap="round"/><circle cx="7.7" cy="10.5" r="0.95" fill="#fff"/></svg></span>
</body></html>
